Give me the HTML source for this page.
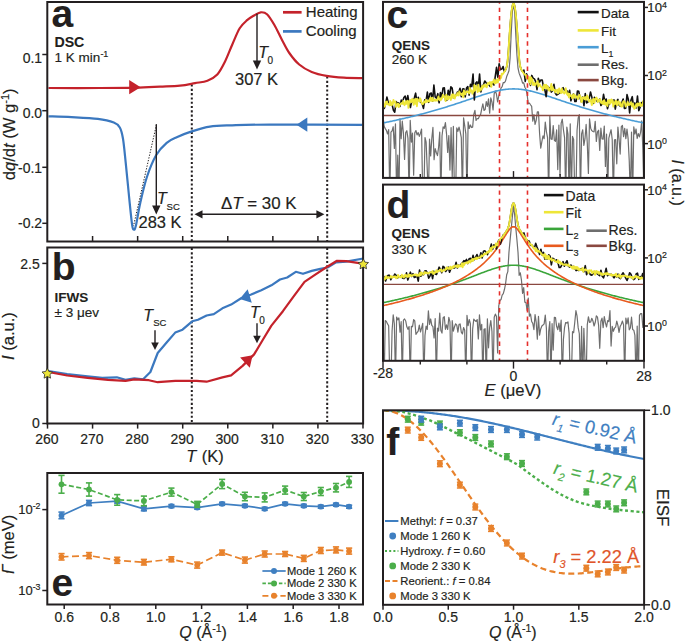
<!DOCTYPE html>
<html><head><meta charset="utf-8"><style>
html,body{margin:0;padding:0;background:#fff;}
svg{display:block;font-family:"Liberation Sans", sans-serif;}
</style></head><body>
<svg width="685" height="643" viewBox="0 0 685 643">
<rect width="685" height="643" fill="#fff"/>
<clipPath id="ca"><rect x="47.3" y="2.0" width="315.8" height="239.5"/></clipPath>
<line x1="191.8" y1="84.5" x2="191.8" y2="241" stroke="#231f20" stroke-width="2.0" stroke-dasharray="2.1 2.2"/>
<line x1="191.8" y1="248" x2="191.8" y2="423" stroke="#231f20" stroke-width="2.0" stroke-dasharray="2.1 2.2"/>
<line x1="327.2" y1="76.5" x2="327.2" y2="241" stroke="#231f20" stroke-width="2.0" stroke-dasharray="2.1 2.2"/>
<line x1="327.2" y1="248" x2="327.2" y2="423" stroke="#231f20" stroke-width="2.0" stroke-dasharray="2.1 2.2"/>
<g clip-path="url(#ca)">
<path d="M48.50,88.00 C57.08,88.00 85.58,88.07 100.00,88.00 C114.42,87.93 125.00,87.83 135.00,87.60 C145.00,87.37 152.50,86.93 160.00,86.60 C167.50,86.27 174.17,86.18 180.00,85.60 C185.83,85.02 190.43,83.92 195.00,83.10 C199.57,82.28 203.68,82.13 207.40,80.70 C211.12,79.27 214.40,77.62 217.30,74.50 C220.20,71.38 222.32,66.97 224.80,62.00 C227.28,57.03 229.72,50.32 232.20,44.70 C234.68,39.08 237.22,32.38 239.70,28.30 C242.18,24.22 244.62,22.38 247.10,20.20 C249.58,18.02 252.32,16.52 254.60,15.20 C256.88,13.88 258.73,12.47 260.80,12.30 C262.87,12.13 264.73,12.08 267.00,14.20 C269.27,16.32 271.92,20.75 274.40,25.00 C276.88,29.25 279.42,35.03 281.90,39.70 C284.38,44.37 286.42,48.87 289.30,53.00 C292.18,57.13 295.47,61.33 299.20,64.50 C302.93,67.67 307.15,70.10 311.70,72.00 C316.25,73.90 321.13,74.95 326.50,75.90 C331.87,76.85 337.90,77.32 343.90,77.70 C349.90,78.08 359.40,78.12 362.50,78.20" fill="none" stroke="#c4222b" stroke-width="2.2" stroke-linejoin="round"/>
<path d="M48.50,116.30 C52.33,116.43 63.27,116.67 71.50,117.10 C79.73,117.53 90.85,117.98 97.90,118.90 C104.95,119.82 110.15,121.17 113.80,122.60 C117.45,124.03 118.27,124.80 119.80,127.50 C121.33,130.20 122.02,132.95 123.00,138.80 C123.98,144.65 124.68,152.90 125.70,162.60 C126.72,172.30 128.05,186.77 129.10,197.00 C130.15,207.23 131.25,218.58 132.00,224.00 C132.75,229.42 132.97,229.17 133.60,229.50 C134.23,229.83 134.70,230.37 135.80,226.00 C136.90,221.63 138.35,211.47 140.20,203.30 C142.05,195.13 144.25,185.02 146.90,177.00 C149.55,168.98 152.80,160.90 156.10,155.20 C159.40,149.50 163.17,145.83 166.70,142.80 C170.23,139.77 173.12,138.90 177.30,137.00 C181.48,135.10 186.37,133.13 191.80,131.40 C197.23,129.67 203.17,127.62 209.90,126.60 C216.63,125.58 222.27,125.63 232.20,125.30 C242.13,124.97 247.78,124.67 269.50,124.60 C291.22,124.53 347.00,124.85 362.50,124.90" fill="none" stroke="#3b78bf" stroke-width="2.2" stroke-linejoin="round"/>
</g>
<line x1="156.5" y1="124.5" x2="133.5" y2="226" stroke="#231f20" stroke-width="1.0" stroke-dasharray="1.3 1.5"/>
<path d="M140.60,87.20 L129.20,94.30 L129.20,80.10 Z" fill="#c4222b"/>
<path d="M296.50,124.70 L307.30,117.60 L307.30,131.80 Z" fill="#3b78bf"/>
<rect x="47.3" y="2.0" width="315.8" height="239.5" fill="none" stroke="#231f20" stroke-width="2.0"/>
<line x1="42.3" y1="54.5" x2="47.3" y2="54.5" stroke="#231f20" stroke-width="1.5" />
<text stroke="#231f20" stroke-width="0.18" id="t1" x="42.1" y="63.4" font-size="14" text-anchor="end" font-weight="normal" font-style="normal" fill="#231f20" >0.1</text>
<line x1="42.3" y1="110.7" x2="47.3" y2="110.7" stroke="#231f20" stroke-width="1.5" />
<text stroke="#231f20" stroke-width="0.18" id="t2" x="42.1" y="118.4" font-size="14" text-anchor="end" font-weight="normal" font-style="normal" fill="#231f20" >0.0</text>
<line x1="42.3" y1="167.3" x2="47.3" y2="167.3" stroke="#231f20" stroke-width="1.5" />
<text stroke="#231f20" stroke-width="0.18" id="t3" x="42.1" y="173.1" font-size="14" text-anchor="end" font-weight="normal" font-style="normal" fill="#231f20" >-0.1</text>
<line x1="42.3" y1="223.3" x2="47.3" y2="223.3" stroke="#231f20" stroke-width="1.5" />
<text stroke="#231f20" stroke-width="0.18" id="t4" x="42.1" y="227.9" font-size="14" text-anchor="end" font-weight="normal" font-style="normal" fill="#231f20" >-0.2</text>
<line x1="92.57" y1="236" x2="92.57" y2="241.5" stroke="#231f20" stroke-width="1.5" />
<line x1="137.64" y1="236" x2="137.64" y2="241.5" stroke="#231f20" stroke-width="1.5" />
<line x1="182.70999999999998" y1="236" x2="182.70999999999998" y2="241.5" stroke="#231f20" stroke-width="1.5" />
<line x1="227.77999999999997" y1="236" x2="227.77999999999997" y2="241.5" stroke="#231f20" stroke-width="1.5" />
<line x1="272.85" y1="236" x2="272.85" y2="241.5" stroke="#231f20" stroke-width="1.5" />
<line x1="317.91999999999996" y1="236" x2="317.91999999999996" y2="241.5" stroke="#231f20" stroke-width="1.5" />
<line x1="156.3" y1="124.2" x2="156.3" y2="206.5" stroke="#231f20" stroke-width="1.4" />
<path d="M152.10000000000002,205.5 L160.5,205.5 L156.3,214.5 Z" fill="#231f20"/>
<line x1="257.0" y1="13.7" x2="257.0" y2="61.5" stroke="#231f20" stroke-width="1.4" />
<path d="M252.8,60.5 L261.2,60.5 L257.0,69.5 Z" fill="#231f20"/>
<text stroke="#231f20" stroke-width="0.18" id="t5" x="157.0" y="203.6" font-size="16" text-anchor="start" font-weight="normal" font-style="italic" fill="#231f20" >T</text>
<text stroke="#231f20" stroke-width="0.18" id="t6" x="166.6" y="209.6" font-size="9.5" text-anchor="start" font-weight="normal" font-style="normal" fill="#231f20" >SC</text>
<text stroke="#231f20" stroke-width="0.18" id="t7" x="138.5" y="228.4" font-size="16.5" text-anchor="start" font-weight="normal" font-style="normal" fill="#231f20" >283 K</text>
<text stroke="#231f20" stroke-width="0.18" id="t8" x="258.3" y="57.9" font-size="16" text-anchor="start" font-weight="normal" font-style="italic" fill="#231f20" >T</text>
<text stroke="#231f20" stroke-width="0.18" id="t9" x="267.6" y="63.8" font-size="10" text-anchor="start" font-weight="normal" font-style="normal" fill="#231f20" >0</text>
<text stroke="#231f20" stroke-width="0.18" id="t10" x="235.0" y="85.0" font-size="16.5" text-anchor="start" font-weight="normal" font-style="normal" fill="#231f20" >307 K</text>
<line x1="200" y1="214.3" x2="318" y2="214.3" stroke="#231f20" stroke-width="1.5" />
<path d="M194.5,214.3 L202.5,210.2 L202.5,218.4 Z" fill="#231f20"/>
<path d="M324.4,214.3 L316.4,210.2 L316.4,218.4 Z" fill="#231f20"/>
<text stroke="#231f20" stroke-width="0.18" id="t11" x="220.9" y="209.3" font-size="16.9" fill="#231f20">Δ<tspan font-style="italic">T</tspan> = 30 K</text>
<line x1="283" y1="12.3" x2="301.6" y2="12.3" stroke="#c4222b" stroke-width="2.7" />
<line x1="283" y1="31.4" x2="301.6" y2="31.4" stroke="#3b78bf" stroke-width="2.7" />
<text stroke="#231f20" stroke-width="0.18" id="t12" x="305.8" y="17.2" font-size="15" text-anchor="start" font-weight="normal" font-style="normal" fill="#231f20" >Heating</text>
<text stroke="#231f20" stroke-width="0.18" id="t13" x="305.8" y="36.2" font-size="15" text-anchor="start" font-weight="normal" font-style="normal" fill="#231f20" >Cooling</text>
<text stroke="#231f20" stroke-width="0.09" id="t14" x="51.5" y="26.8" font-size="39" text-anchor="start" font-weight="bold" font-style="normal" fill="#231f20" >a</text>
<text stroke="#231f20" stroke-width="0.09" id="t15" x="54.4" y="47.1" font-size="14.2" text-anchor="start" font-weight="bold" font-style="normal" fill="#231f20" >DSC</text>
<text stroke="#231f20" stroke-width="0.18" id="t16" x="54.6" y="62.2" font-size="13.5" fill="#231f20">1 K min<tspan font-size="9" dy="-5">-1</tspan></text>
<text stroke="#231f20" stroke-width="0.18" id="t17" transform="translate(15.3,134.3) rotate(-90)" text-anchor="middle" font-size="16.6" fill="#231f20">d<tspan font-style="italic">q</tspan>/d<tspan font-style="italic">t</tspan> (W g<tspan font-size="11" dy="-6">-1</tspan><tspan dy="6">)</tspan></text>
<path d="M48.20,371.10 L67.20,374.00 L87.60,376.40 L102.20,377.80 L116.80,377.30 L125.50,379.90 L134.30,378.40 L143.10,379.30 L150.40,372.00 L157.70,353.00 L166.40,342.80 L175.20,332.60 L182.50,329.70 L192.20,321.30 L198.00,319.80 L206.60,315.50 L213.80,314.10 L222.40,308.30 L231.10,304.60 L241.10,298.30 L251.20,294.50 L261.30,290.20 L271.40,285.30 L280.00,279.50 L287.20,277.50 L295.80,271.80 L303.00,273.80 L311.70,270.90 L320.30,268.90 L327.50,267.50 L336.10,262.30 L346.20,261.70 L363.30,258.50" fill="none" stroke="#3b78bf" stroke-width="2.2" stroke-linejoin="round"/>
<path d="M48.20,372.00 L67.20,375.50 L87.60,377.80 L108.00,379.90 L125.50,380.80 L134.30,379.30 L148.90,380.20 L157.70,382.20 L175.20,380.80 L196.50,380.90 L206.60,381.70 L222.40,377.40 L231.10,375.40 L242.60,365.90 L254.10,354.40 L262.70,340.00 L271.40,325.60 L282.90,311.20 L294.40,295.40 L304.50,281.80 L314.50,275.20 L326.00,267.50 L337.00,260.80 L346.20,261.10 L362.50,263.70" fill="none" stroke="#c4222b" stroke-width="2.2" stroke-linejoin="round"/>
<path d="M239.70,299.00 L247.65,289.16 L251.82,302.63 Z" fill="#3b78bf"/>
<path d="M252.60,355.30 L249.77,367.68 L240.10,357.56 Z" fill="#c4222b"/>
<rect x="47.3" y="247.5" width="315.8" height="176.0" fill="none" stroke="#231f20" stroke-width="2.0"/>
<path d="M47.30,368.20 L48.92,371.48 L52.53,372.00 L49.92,374.55 L50.53,378.15 L47.30,376.45 L44.07,378.15 L44.68,374.55 L42.07,372.00 L45.68,371.48 Z" fill="#ece537" stroke="#2a2a2a" stroke-width="0.8" stroke-linejoin="miter"/>
<path d="M363.30,258.80 L364.92,262.08 L368.53,262.60 L365.92,265.15 L366.53,268.75 L363.30,267.05 L360.07,268.75 L360.68,265.15 L358.07,262.60 L361.68,262.08 Z" fill="#ece537" stroke="#2a2a2a" stroke-width="0.8" stroke-linejoin="miter"/>
<line x1="42.3" y1="263.4" x2="47.3" y2="263.4" stroke="#231f20" stroke-width="1.5" />
<text stroke="#231f20" stroke-width="0.18" id="t18" x="39.8" y="268.7" font-size="14" text-anchor="end" font-weight="normal" font-style="normal" fill="#231f20" >2.5</text>
<line x1="42.3" y1="423.5" x2="47.3" y2="423.5" stroke="#231f20" stroke-width="1.5" />
<text stroke="#231f20" stroke-width="0.18" id="t19" x="39.8" y="428.1" font-size="14" text-anchor="end" font-weight="normal" font-style="normal" fill="#231f20" >0</text>
<line x1="47.5" y1="423.5" x2="47.5" y2="428.6" stroke="#231f20" stroke-width="1.5" />
<text stroke="#231f20" stroke-width="0.18" id="t20" x="46.9" y="443.8" font-size="14" text-anchor="middle" font-weight="normal" font-style="normal" fill="#231f20" >260</text>
<line x1="92.57" y1="423.5" x2="92.57" y2="428.6" stroke="#231f20" stroke-width="1.5" />
<text stroke="#231f20" stroke-width="0.18" id="t21" x="91.97" y="443.8" font-size="14" text-anchor="middle" font-weight="normal" font-style="normal" fill="#231f20" >270</text>
<line x1="137.64" y1="423.5" x2="137.64" y2="428.6" stroke="#231f20" stroke-width="1.5" />
<text stroke="#231f20" stroke-width="0.18" id="t22" x="137.04" y="443.8" font-size="14" text-anchor="middle" font-weight="normal" font-style="normal" fill="#231f20" >280</text>
<line x1="182.70999999999998" y1="423.5" x2="182.70999999999998" y2="428.6" stroke="#231f20" stroke-width="1.5" />
<text stroke="#231f20" stroke-width="0.18" id="t23" x="182.10999999999999" y="443.8" font-size="14" text-anchor="middle" font-weight="normal" font-style="normal" fill="#231f20" >290</text>
<line x1="227.77999999999997" y1="423.5" x2="227.77999999999997" y2="428.6" stroke="#231f20" stroke-width="1.5" />
<text stroke="#231f20" stroke-width="0.18" id="t24" x="227.17999999999998" y="443.8" font-size="14" text-anchor="middle" font-weight="normal" font-style="normal" fill="#231f20" >300</text>
<line x1="272.85" y1="423.5" x2="272.85" y2="428.6" stroke="#231f20" stroke-width="1.5" />
<text stroke="#231f20" stroke-width="0.18" id="t25" x="272.25" y="443.8" font-size="14" text-anchor="middle" font-weight="normal" font-style="normal" fill="#231f20" >310</text>
<line x1="317.91999999999996" y1="423.5" x2="317.91999999999996" y2="428.6" stroke="#231f20" stroke-width="1.5" />
<text stroke="#231f20" stroke-width="0.18" id="t26" x="317.31999999999994" y="443.8" font-size="14" text-anchor="middle" font-weight="normal" font-style="normal" fill="#231f20" >320</text>
<line x1="362.98999999999995" y1="423.5" x2="362.98999999999995" y2="428.6" stroke="#231f20" stroke-width="1.5" />
<text stroke="#231f20" stroke-width="0.18" id="t27" x="362.38999999999993" y="443.8" font-size="14" text-anchor="middle" font-weight="normal" font-style="normal" fill="#231f20" >330</text>
<text stroke="#231f20" stroke-width="0.18" id="t28" x="186.3" y="461.5" font-size="16.4" fill="#231f20"><tspan font-style="italic">T</tspan><tspan dx="1"> (K)</tspan></text>
<line x1="155.0" y1="330.3" x2="155.0" y2="343.6" stroke="#231f20" stroke-width="1.4" />
<path d="M151.2,342.6 L158.8,342.6 L155.0,350.1 Z" fill="#231f20"/>
<line x1="257.0" y1="323.3" x2="257.0" y2="336.7" stroke="#231f20" stroke-width="1.4" />
<path d="M253.2,335.7 L260.8,335.7 L257.0,343.2 Z" fill="#231f20"/>
<text stroke="#231f20" stroke-width="0.18" id="t29" x="143.3" y="320.9" font-size="16" text-anchor="start" font-weight="normal" font-style="italic" fill="#231f20" >T</text>
<text stroke="#231f20" stroke-width="0.18" id="t30" x="153.2" y="326.4" font-size="9.5" text-anchor="start" font-weight="normal" font-style="normal" fill="#231f20" >SC</text>
<text stroke="#231f20" stroke-width="0.18" id="t31" x="250.0" y="318.3" font-size="16" text-anchor="start" font-weight="normal" font-style="italic" fill="#231f20" >T</text>
<text stroke="#231f20" stroke-width="0.18" id="t32" x="259.3" y="323.7" font-size="10" text-anchor="start" font-weight="normal" font-style="normal" fill="#231f20" >0</text>
<text stroke="#231f20" stroke-width="0.09" id="t33" x="51.8" y="279.8" font-size="39" text-anchor="start" font-weight="bold" font-style="normal" fill="#231f20" >b</text>
<text stroke="#231f20" stroke-width="0.09" id="t34" x="54.6" y="301.8" font-size="13.5" text-anchor="start" font-weight="bold" font-style="normal" fill="#231f20" >IFWS</text>
<text stroke="#231f20" stroke-width="0.18" id="t35" x="54.6" y="317.0" font-size="13.5" text-anchor="start" font-weight="normal" font-style="normal" fill="#231f20" >± 3 μev</text>
<text stroke="#231f20" stroke-width="0.18" id="t36" transform="translate(13.7,336.1) rotate(-90)" text-anchor="middle" font-size="16.6" fill="#231f20"><tspan font-style="italic">I</tspan> (a.u.)</text>
<clipPath id="clipc"><rect x="383.0" y="1.9" width="261.0" height="176.0"/></clipPath>
<g clip-path="url(#clipc)">
<path d="M383.00,116.09 L384.13,126.33 L385.27,128.64 L386.40,130.33 L387.54,133.95 L388.67,129.57 L389.81,197.90 L390.94,132.19 L392.08,130.81 L393.21,126.72 L394.35,148.35 L395.48,123.89 L396.62,197.90 L397.75,155.16 L398.89,197.90 L400.02,118.68 L401.16,138.61 L402.29,121.21 L403.43,133.02 L404.56,159.40 L405.70,132.61 L406.83,130.70 L407.97,138.30 L409.10,197.90 L410.23,120.45 L411.37,142.07 L412.50,133.15 L413.64,175.21 L414.77,132.78 L415.91,130.51 L417.04,134.87 L418.18,132.58 L419.31,136.39 L420.45,133.20 L421.58,129.00 L422.72,197.90 L423.85,197.90 L424.99,137.50 L426.12,142.20 L427.26,169.86 L428.39,197.90 L429.53,139.22 L430.66,155.99 L431.80,138.59 L432.93,127.45 L434.07,159.73 L435.20,148.68 L436.33,152.47 L437.47,155.65 L438.60,147.21 L439.74,132.10 L440.87,197.90 L442.01,135.99 L443.14,126.80 L444.28,128.42 L445.41,122.60 L446.55,134.07 L447.68,152.52 L448.82,135.50 L449.95,170.08 L451.09,127.48 L452.22,176.40 L453.36,126.34 L454.49,197.90 L455.63,197.90 L456.76,127.93 L457.90,131.26 L459.03,127.07 L460.17,131.62 L461.30,137.69 L462.43,197.90 L463.57,117.78 L464.70,125.70 L465.84,133.90 L466.97,197.90 L468.11,121.80 L469.24,128.45 L470.38,124.98 L471.51,127.55 L472.65,127.14 L473.78,114.31 L474.92,110.33 L476.05,120.52 L477.19,118.55 L478.32,118.74 L479.46,116.01 L480.59,114.62 L481.73,108.86 L482.86,103.78 L484.00,110.42 L485.13,109.57 L486.27,101.55 L487.40,106.30 L488.53,98.96 L489.67,113.22 L490.80,97.90 L491.94,101.87 L493.07,109.98 L494.21,93.57 L495.34,90.98 L496.48,94.25 L497.61,101.81 L498.75,96.16 L499.88,91.90 L501.02,88.02 L502.15,86.66 L503.29,82.49 L504.42,82.70 L505.56,80.86 L506.69,76.57 L507.83,73.72 L508.96,70.69 L510.10,57.89 L511.23,32.85 L512.37,11.07 L513.50,4.38 L514.63,11.86 L515.77,34.58 L516.90,54.78 L518.04,68.46 L519.17,73.38 L520.31,76.20 L521.44,79.20 L522.58,83.16 L523.71,82.72 L524.85,87.23 L525.98,89.29 L527.12,94.47 L528.25,103.77 L529.39,103.01 L530.52,104.73 L531.66,106.31 L532.79,121.13 L533.93,114.60 L535.06,124.33 L536.20,120.33 L537.33,111.81 L538.47,111.90 L539.60,133.80 L540.73,148.22 L541.87,141.56 L543.00,135.74 L544.14,138.75 L545.27,122.05 L546.41,131.59 L547.54,137.53 L548.68,197.90 L549.81,116.19 L550.95,139.02 L552.08,139.41 L553.22,125.58 L554.35,140.25 L555.49,141.39 L556.62,129.94 L557.76,169.56 L558.89,124.99 L560.03,174.90 L561.16,123.11 L562.30,119.23 L563.43,129.74 L564.57,137.57 L565.70,197.90 L566.83,127.17 L567.97,134.06 L569.10,197.90 L570.24,123.81 L571.37,197.90 L572.51,136.37 L573.64,139.39 L574.78,197.90 L575.91,197.90 L577.05,130.47 L578.18,117.90 L579.32,114.60 L580.45,197.90 L581.59,133.91 L582.72,129.77 L583.86,145.52 L584.99,138.69 L586.13,124.47 L587.26,142.68 L588.40,173.42 L589.53,118.80 L590.67,128.19 L591.80,130.63 L592.93,131.50 L594.07,131.83 L595.20,121.34 L596.34,141.41 L597.47,131.93 L598.61,130.25 L599.74,150.47 L600.88,128.14 L602.01,138.96 L603.15,139.11 L604.28,126.09 L605.42,166.44 L606.55,134.03 L607.69,197.90 L608.82,138.20 L609.96,133.75 L611.09,129.72 L612.23,139.74 L613.36,197.90 L614.50,139.85 L615.63,139.67 L616.77,163.81 L617.90,127.13 L619.03,138.82 L620.17,154.03 L621.30,126.66 L622.44,125.49 L623.57,136.62 L624.71,128.44 L625.84,138.71 L626.98,129.00 L628.11,138.69 L629.25,161.07 L630.38,197.90 L631.52,132.09 L632.65,197.90 L633.79,126.87 L634.92,134.03 L636.06,128.98 L637.19,138.32 L638.33,133.60 L639.46,136.88 L640.60,132.22 L641.73,120.83 L642.87,150.02 L644.00,197.90" fill="none" stroke="#6e6e6e" stroke-width="1.2" stroke-linejoin="round"/>
<line x1="383.0" y1="115.49424069000563" x2="644.0" y2="115.49424069000563" stroke="#8a4840" stroke-width="1.3" />
<path d="M383.00,122.99 L383.87,122.81 L384.74,122.63 L385.61,122.45 L386.48,122.27 L387.35,122.09 L388.22,121.91 L389.09,121.72 L389.96,121.54 L390.83,121.35 L391.70,121.17 L392.57,120.98 L393.44,120.79 L394.31,120.60 L395.18,120.41 L396.05,120.22 L396.92,120.02 L397.79,119.83 L398.66,119.63 L399.53,119.44 L400.40,119.24 L401.27,119.04 L402.14,118.84 L403.01,118.64 L403.88,118.44 L404.75,118.23 L405.62,118.03 L406.49,117.82 L407.36,117.62 L408.23,117.41 L409.10,117.20 L409.97,116.99 L410.84,116.77 L411.71,116.56 L412.58,116.35 L413.45,116.13 L414.32,115.91 L415.19,115.70 L416.06,115.48 L416.93,115.26 L417.80,115.03 L418.67,114.81 L419.54,114.58 L420.41,114.36 L421.28,114.13 L422.15,113.90 L423.02,113.67 L423.89,113.44 L424.76,113.21 L425.63,112.97 L426.50,112.74 L427.37,112.50 L428.24,112.26 L429.11,112.02 L429.98,111.78 L430.85,111.53 L431.72,111.29 L432.59,111.04 L433.46,110.80 L434.33,110.55 L435.20,110.30 L436.07,110.04 L436.94,109.79 L437.81,109.54 L438.68,109.28 L439.55,109.02 L440.42,108.76 L441.29,108.50 L442.16,108.24 L443.03,107.97 L443.90,107.71 L444.77,107.44 L445.64,107.17 L446.51,106.90 L447.38,106.63 L448.25,106.36 L449.12,106.09 L449.99,105.81 L450.86,105.53 L451.73,105.26 L452.60,104.98 L453.47,104.70 L454.34,104.41 L455.21,104.13 L456.08,103.85 L456.95,103.56 L457.82,103.27 L458.69,102.99 L459.56,102.70 L460.43,102.41 L461.30,102.12 L462.17,101.83 L463.04,101.53 L463.91,101.24 L464.78,100.95 L465.65,100.65 L466.52,100.36 L467.39,100.06 L468.26,99.77 L469.13,99.47 L470.00,99.17 L470.87,98.88 L471.74,98.58 L472.61,98.29 L473.48,97.99 L474.35,97.70 L475.22,97.40 L476.09,97.11 L476.96,96.82 L477.83,96.52 L478.70,96.23 L479.57,95.95 L480.44,95.66 L481.31,95.38 L482.18,95.09 L483.05,94.81 L483.92,94.54 L484.79,94.26 L485.66,93.99 L486.53,93.72 L487.40,93.46 L488.27,93.20 L489.14,92.95 L490.01,92.70 L490.88,92.45 L491.75,92.21 L492.62,91.98 L493.49,91.75 L494.36,91.53 L495.23,91.31 L496.10,91.10 L496.97,90.90 L497.84,90.71 L498.71,90.52 L499.58,90.35 L500.45,90.18 L501.32,90.02 L502.19,89.87 L503.06,89.73 L503.93,89.60 L504.80,89.48 L505.67,89.38 L506.54,89.28 L507.41,89.19 L508.28,89.11 L509.15,89.05 L510.02,89.00 L510.89,88.96 L511.76,88.93 L512.63,88.91 L513.50,88.90 L514.37,88.91 L515.24,88.93 L516.11,88.96 L516.98,89.00 L517.85,89.05 L518.72,89.11 L519.59,89.19 L520.46,89.28 L521.33,89.38 L522.20,89.48 L523.07,89.60 L523.94,89.73 L524.81,89.87 L525.68,90.02 L526.55,90.18 L527.42,90.35 L528.29,90.52 L529.16,90.71 L530.03,90.90 L530.90,91.10 L531.77,91.31 L532.64,91.53 L533.51,91.75 L534.38,91.98 L535.25,92.21 L536.12,92.45 L536.99,92.70 L537.86,92.95 L538.73,93.20 L539.60,93.46 L540.47,93.72 L541.34,93.99 L542.21,94.26 L543.08,94.54 L543.95,94.81 L544.82,95.09 L545.69,95.38 L546.56,95.66 L547.43,95.95 L548.30,96.23 L549.17,96.52 L550.04,96.82 L550.91,97.11 L551.78,97.40 L552.65,97.70 L553.52,97.99 L554.39,98.29 L555.26,98.58 L556.13,98.88 L557.00,99.17 L557.87,99.47 L558.74,99.77 L559.61,100.06 L560.48,100.36 L561.35,100.65 L562.22,100.95 L563.09,101.24 L563.96,101.53 L564.83,101.83 L565.70,102.12 L566.57,102.41 L567.44,102.70 L568.31,102.99 L569.18,103.27 L570.05,103.56 L570.92,103.85 L571.79,104.13 L572.66,104.41 L573.53,104.70 L574.40,104.98 L575.27,105.26 L576.14,105.53 L577.01,105.81 L577.88,106.09 L578.75,106.36 L579.62,106.63 L580.49,106.90 L581.36,107.17 L582.23,107.44 L583.10,107.71 L583.97,107.97 L584.84,108.24 L585.71,108.50 L586.58,108.76 L587.45,109.02 L588.32,109.28 L589.19,109.54 L590.06,109.79 L590.93,110.04 L591.80,110.30 L592.67,110.55 L593.54,110.80 L594.41,111.04 L595.28,111.29 L596.15,111.53 L597.02,111.78 L597.89,112.02 L598.76,112.26 L599.63,112.50 L600.50,112.74 L601.37,112.97 L602.24,113.21 L603.11,113.44 L603.98,113.67 L604.85,113.90 L605.72,114.13 L606.59,114.36 L607.46,114.58 L608.33,114.81 L609.20,115.03 L610.07,115.26 L610.94,115.48 L611.81,115.70 L612.68,115.91 L613.55,116.13 L614.42,116.35 L615.29,116.56 L616.16,116.77 L617.03,116.99 L617.90,117.20 L618.77,117.41 L619.64,117.62 L620.51,117.82 L621.38,118.03 L622.25,118.23 L623.12,118.44 L623.99,118.64 L624.86,118.84 L625.73,119.04 L626.60,119.24 L627.47,119.44 L628.34,119.63 L629.21,119.83 L630.08,120.02 L630.95,120.22 L631.82,120.41 L632.69,120.60 L633.56,120.79 L634.43,120.98 L635.30,121.17 L636.17,121.35 L637.04,121.54 L637.91,121.72 L638.78,121.91 L639.65,122.09 L640.52,122.27 L641.39,122.45 L642.26,122.63 L643.13,122.81 L644.00,122.99" fill="none" stroke="#4a9dd6" stroke-width="1.6"/>
<path d="M383.00,102.92 L384.31,108.37 L385.61,104.16 L386.91,97.09 L388.22,102.14 L389.52,104.28 L390.83,104.71 L392.13,104.78 L393.44,110.35 L394.75,112.21 L396.05,101.44 L397.36,103.25 L398.66,102.72 L399.97,106.39 L401.27,100.13 L402.57,101.84 L403.88,97.46 L405.19,96.05 L406.49,102.19 L407.80,95.57 L409.10,103.37 L410.40,107.50 L411.71,101.12 L413.01,101.96 L414.32,97.94 L415.62,93.18 L416.93,102.00 L418.24,97.38 L419.54,101.24 L420.85,102.13 L422.15,103.82 L423.45,108.37 L424.76,99.82 L426.06,100.93 L427.37,92.04 L428.68,102.33 L429.98,93.40 L431.28,93.04 L432.59,101.11 L433.89,85.01 L435.20,96.98 L436.50,98.24 L437.81,93.67 L439.12,102.80 L440.42,92.55 L441.73,97.56 L443.03,87.95 L444.34,87.87 L445.64,100.62 L446.94,100.05 L448.25,90.19 L449.56,95.37 L450.86,86.83 L452.17,88.13 L453.47,97.61 L454.77,97.01 L456.08,94.79 L457.38,92.11 L458.69,92.54 L460.00,88.22 L461.30,96.70 L462.61,89.13 L463.91,88.81 L465.21,96.82 L466.52,88.11 L467.82,86.57 L469.13,95.08 L470.44,84.28 L471.74,86.50 L473.05,73.98 L474.35,99.99 L475.65,83.30 L476.96,81.83 L478.26,87.64 L479.57,74.02 L480.88,91.87 L482.18,86.26 L483.49,84.69 L484.79,81.07 L486.10,82.80 L487.40,84.26 L488.70,84.34 L490.01,86.36 L491.31,84.46 L492.62,83.04 L493.93,85.02 L495.23,76.54 L496.53,67.32 L497.84,77.30 L499.14,63.74 L500.45,69.65 L501.75,69.03 L503.06,66.53 L504.18,71.12 L504.49,71.64 L504.80,71.16 L505.11,70.64 L505.42,70.09 L505.73,69.47 L506.04,68.76 L506.35,67.88 L506.66,66.76 L506.98,65.29 L507.29,63.34 L507.60,60.81 L507.91,57.65 L508.22,53.90 L508.53,49.69 L508.84,45.19 L509.15,40.55 L509.46,35.94 L509.77,31.45 L510.08,27.19 L510.39,23.20 L510.70,19.53 L511.01,16.21 L511.32,13.25 L511.64,10.67 L511.95,8.47 L512.26,6.66 L512.57,5.24 L512.88,4.23 L513.19,3.60 L513.50,3.38 L513.81,3.60 L514.12,4.23 L514.43,5.24 L514.74,6.66 L515.05,8.47 L515.36,10.67 L515.67,13.25 L515.99,16.21 L516.30,19.53 L516.61,23.20 L516.92,27.19 L517.23,31.45 L517.54,35.94 L517.85,40.55 L518.16,45.19 L518.47,49.69 L518.78,53.90 L519.09,57.65 L519.40,60.81 L519.71,63.34 L520.02,65.29 L520.34,66.76 L520.65,67.88 L520.96,68.76 L521.27,69.47 L521.58,70.09 L521.89,70.64 L522.20,71.16 L522.51,71.64 L522.82,71.40 L523.94,70.02 L525.25,81.42 L526.55,73.89 L527.86,77.40 L529.16,80.51 L530.47,85.36 L531.77,75.42 L533.08,78.10 L534.38,78.84 L535.68,81.56 L536.99,89.73 L538.29,78.31 L539.60,81.96 L540.90,79.93 L542.21,79.94 L543.51,87.16 L544.82,89.54 L546.12,96.65 L547.43,86.19 L548.74,88.82 L550.04,87.52 L551.35,92.09 L552.65,90.60 L553.96,84.26 L555.26,92.96 L556.57,94.99 L557.87,94.32 L559.17,93.11 L560.48,92.65 L561.78,89.73 L563.09,87.62 L564.39,90.09 L565.70,90.23 L567.00,90.71 L568.31,94.46 L569.62,90.36 L570.92,100.78 L572.23,95.98 L573.53,93.91 L574.84,101.54 L576.14,101.48 L577.44,90.93 L578.75,91.31 L580.06,97.93 L581.36,101.65 L582.66,97.01 L583.97,105.69 L585.27,93.59 L586.58,102.89 L587.88,102.33 L589.19,98.41 L590.50,91.96 L591.80,96.95 L593.11,103.44 L594.41,97.36 L595.72,98.43 L597.02,101.45 L598.33,101.45 L599.63,99.13 L600.93,105.50 L602.24,103.59 L603.54,94.29 L604.85,101.76 L606.15,99.00 L607.46,108.72 L608.76,104.34 L610.07,103.20 L611.38,101.00 L612.68,100.56 L613.99,99.91 L615.29,109.08 L616.60,101.31 L617.90,99.32 L619.21,105.41 L620.51,106.20 L621.82,102.46 L623.12,99.06 L624.42,108.46 L625.73,108.11 L627.03,94.65 L628.34,99.54 L629.64,112.86 L630.95,100.34 L632.25,96.69 L633.56,107.15 L634.87,102.94 L636.17,107.96 L637.48,96.14 L638.78,110.60 L640.09,107.26 L641.39,102.68 L642.69,102.11 L644.00,108.11" fill="none" stroke="#111" stroke-width="1.6" stroke-linejoin="round"/>
<path d="M383.00,104.17 L383.65,106.96 L384.31,104.39 L384.96,106.21 L385.61,102.02 L386.26,103.87 L386.91,101.53 L387.57,104.21 L388.22,103.97 L388.87,104.59 L389.52,105.25 L390.18,100.85 L390.83,104.84 L391.48,105.29 L392.13,102.33 L392.79,104.52 L393.44,99.97 L394.09,102.52 L394.75,102.51 L395.40,101.62 L396.05,106.82 L396.70,105.43 L397.36,104.59 L398.01,103.52 L398.66,107.13 L399.31,105.83 L399.97,104.84 L400.62,103.60 L401.27,103.30 L401.92,103.15 L402.57,103.85 L403.23,100.97 L403.88,103.84 L404.53,105.14 L405.19,103.90 L405.84,101.19 L406.49,103.72 L407.14,101.48 L407.80,100.65 L408.45,107.81 L409.10,102.18 L409.75,101.14 L410.40,100.02 L411.06,102.32 L411.71,101.83 L412.36,98.63 L413.01,99.67 L413.67,104.76 L414.32,100.73 L414.97,99.22 L415.62,103.84 L416.28,98.90 L416.93,106.23 L417.58,99.06 L418.24,100.67 L418.89,100.26 L419.54,101.16 L420.19,98.48 L420.85,100.04 L421.50,102.78 L422.15,103.71 L422.80,104.23 L423.45,103.47 L424.11,101.33 L424.76,102.02 L425.41,102.43 L426.06,99.68 L426.72,101.82 L427.37,101.66 L428.02,100.74 L428.68,100.42 L429.33,101.60 L429.98,98.51 L430.63,97.70 L431.28,100.68 L431.94,100.91 L432.59,97.60 L433.24,100.73 L433.89,100.40 L434.55,99.54 L435.20,100.71 L435.85,100.41 L436.50,99.79 L437.16,100.81 L437.81,98.71 L438.46,96.51 L439.12,99.23 L439.77,100.16 L440.42,98.54 L441.07,99.86 L441.73,98.60 L442.38,96.67 L443.03,94.75 L443.68,97.03 L444.34,96.46 L444.99,98.07 L445.64,101.10 L446.29,94.71 L446.94,96.08 L447.60,99.42 L448.25,99.38 L448.90,96.42 L449.56,97.00 L450.21,97.36 L450.86,99.99 L451.51,95.27 L452.17,94.44 L452.82,97.74 L453.47,94.37 L454.12,95.65 L454.77,98.57 L455.43,95.30 L456.08,95.34 L456.73,95.45 L457.38,93.09 L458.04,95.14 L458.69,95.56 L459.34,91.44 L460.00,93.37 L460.65,93.39 L461.30,94.90 L461.95,95.22 L462.61,93.33 L463.26,97.41 L463.91,90.36 L464.56,92.71 L465.21,94.38 L465.87,92.54 L466.52,91.30 L467.17,91.97 L467.82,92.03 L468.48,91.71 L469.13,93.29 L469.78,87.91 L470.44,91.55 L471.09,90.23 L471.74,90.37 L472.39,93.70 L473.05,92.21 L473.70,91.42 L474.35,85.00 L475.00,90.64 L475.65,86.06 L476.31,87.17 L476.96,87.82 L477.61,92.08 L478.26,84.65 L478.92,90.50 L479.57,91.18 L480.22,89.82 L480.88,88.20 L481.53,89.72 L482.18,85.89 L482.83,86.61 L483.49,87.39 L484.14,84.78 L484.79,85.72 L485.44,86.49 L486.10,84.71 L486.75,87.31 L487.40,84.51 L488.05,82.79 L488.70,83.98 L489.36,83.17 L490.01,81.98 L490.66,84.79 L491.31,86.77 L491.97,81.98 L492.62,82.23 L493.27,81.79 L493.93,79.42 L494.58,83.48 L495.23,81.08 L495.88,83.02 L496.53,79.72 L497.19,79.60 L497.84,82.60 L498.49,78.30 L499.14,78.66 L499.80,79.98 L500.45,76.19 L501.10,77.87 L501.75,73.63 L502.41,74.49 L503.06,73.66 L503.71,72.78 L504.37,71.83 L505.02,70.80 L505.67,69.60 L506.32,67.98 L506.98,65.29 L507.63,60.52 L508.28,53.09 L508.93,43.80 L509.58,34.12 L510.24,25.16 L510.89,17.50 L511.54,11.40 L512.20,6.99 L512.85,4.31 L513.50,3.38 L514.15,4.31 L514.80,6.99 L515.46,11.40 L516.11,17.50 L516.76,25.16 L517.41,34.12 L518.07,43.80 L518.72,53.09 L519.37,60.52 L520.02,65.29 L520.68,67.98 L521.33,69.60 L521.98,70.80 L522.63,71.83 L523.29,72.78 L523.94,73.66 L524.59,74.49 L525.25,74.85 L525.90,74.95 L526.55,78.38 L527.20,76.55 L527.86,76.58 L528.51,79.49 L529.16,82.10 L529.81,77.22 L530.47,84.23 L531.12,77.49 L531.77,79.64 L532.42,79.45 L533.08,84.94 L533.73,82.97 L534.38,83.01 L535.03,85.25 L535.68,84.77 L536.34,83.09 L536.99,82.52 L537.64,80.93 L538.29,86.53 L538.95,83.91 L539.60,84.44 L540.25,85.37 L540.90,86.63 L541.56,87.20 L542.21,87.45 L542.86,90.32 L543.51,88.52 L544.17,84.65 L544.82,88.11 L545.47,85.25 L546.12,84.82 L546.78,88.65 L547.43,86.25 L548.08,87.27 L548.74,90.31 L549.39,90.76 L550.04,89.18 L550.69,87.46 L551.35,84.05 L552.00,90.39 L552.65,87.04 L553.30,89.81 L553.96,90.09 L554.61,89.66 L555.26,92.36 L555.91,90.43 L556.57,90.42 L557.22,89.69 L557.87,93.27 L558.52,92.71 L559.17,88.39 L559.83,91.32 L560.48,91.66 L561.13,93.06 L561.78,88.51 L562.44,91.22 L563.09,92.63 L563.74,92.27 L564.39,93.56 L565.05,92.41 L565.70,88.20 L566.35,90.96 L567.00,93.97 L567.66,95.15 L568.31,93.50 L568.96,97.46 L569.62,94.03 L570.27,95.42 L570.92,96.11 L571.57,95.57 L572.23,98.27 L572.88,95.22 L573.53,94.28 L574.18,97.83 L574.84,95.46 L575.49,95.43 L576.14,96.82 L576.79,97.80 L577.44,96.70 L578.10,99.09 L578.75,95.75 L579.40,94.94 L580.06,96.50 L580.71,97.20 L581.36,102.10 L582.01,101.55 L582.66,97.82 L583.32,97.31 L583.97,97.66 L584.62,99.14 L585.27,97.05 L585.93,99.83 L586.58,97.88 L587.23,95.52 L587.88,97.34 L588.54,100.13 L589.19,101.57 L589.84,99.83 L590.50,99.73 L591.15,102.11 L591.80,105.05 L592.45,102.55 L593.11,98.85 L593.76,98.99 L594.41,102.95 L595.06,100.11 L595.72,98.41 L596.37,97.45 L597.02,98.60 L597.67,102.00 L598.33,100.91 L598.98,99.78 L599.63,101.19 L600.28,99.10 L600.93,102.86 L601.59,102.37 L602.24,103.50 L602.89,101.22 L603.54,104.11 L604.20,100.21 L604.85,104.20 L605.50,104.69 L606.15,102.59 L606.81,105.08 L607.46,106.05 L608.11,100.31 L608.76,100.89 L609.42,99.92 L610.07,103.86 L610.72,101.20 L611.38,99.41 L612.03,102.64 L612.68,100.38 L613.33,106.58 L613.99,102.71 L614.64,104.17 L615.29,101.37 L615.94,100.69 L616.60,104.17 L617.25,105.22 L617.90,101.90 L618.55,101.24 L619.21,103.07 L619.86,104.92 L620.51,102.54 L621.16,106.63 L621.82,104.75 L622.47,106.36 L623.12,101.89 L623.77,101.13 L624.42,102.00 L625.08,103.08 L625.73,106.57 L626.38,105.04 L627.03,104.60 L627.69,101.99 L628.34,105.05 L628.99,103.81 L629.64,104.79 L630.30,103.62 L630.95,102.20 L631.60,104.67 L632.25,106.32 L632.91,103.50 L633.56,105.61 L634.21,108.77 L634.87,106.66 L635.52,107.77 L636.17,104.30 L636.82,106.37 L637.48,103.46 L638.13,105.55 L638.78,103.79 L639.43,105.11 L640.09,102.63 L640.74,106.01 L641.39,104.79 L642.04,105.62 L642.69,104.40 L643.35,100.67 L644.00,104.34" fill="none" stroke="#eee638" stroke-width="1.9" stroke-linejoin="round"/>
</g>
<line x1="499.51785714285717" y1="1.9" x2="499.51785714285717" y2="177.9" stroke="#e5302c" stroke-width="1.6" stroke-dasharray="4.4 4" stroke-dashoffset="2.6"/>
<line x1="527.4821428571429" y1="1.9" x2="527.4821428571429" y2="177.9" stroke="#e5302c" stroke-width="1.6" stroke-dasharray="4.4 4" stroke-dashoffset="2.6"/>
<rect x="383.0" y="1.9" width="261.0" height="176.0" fill="none" stroke="#231f20" stroke-width="2.0"/>
<line x1="644.0" y1="7.400000000000006" x2="648.0" y2="7.400000000000006" stroke="#231f20" stroke-width="1.5" />
<text stroke="#231f20" stroke-width="0.18" id="t37" x="647.3" y="12.300000000000006" font-size="13.2" fill="#231f20">10<tspan font-size="8.8" dy="-4.6">4</tspan></text>
<line x1="644.0" y1="75.5" x2="648.0" y2="75.5" stroke="#231f20" stroke-width="1.5" />
<text stroke="#231f20" stroke-width="0.18" id="t38" x="647.3" y="80.4" font-size="13.2" fill="#231f20">10<tspan font-size="8.8" dy="-4.6">2</tspan></text>
<line x1="644.0" y1="143.6" x2="648.0" y2="143.6" stroke="#231f20" stroke-width="1.5" />
<text stroke="#231f20" stroke-width="0.18" id="t39" x="647.3" y="148.5" font-size="13.2" fill="#231f20">10<tspan font-size="8.8" dy="-4.6">0</tspan></text>
<line x1="420.2857142857143" y1="174.1" x2="420.2857142857143" y2="177.9" stroke="#231f20" stroke-width="1.4" />
<line x1="466.89285714285717" y1="174.1" x2="466.89285714285717" y2="177.9" stroke="#231f20" stroke-width="1.4" />
<line x1="513.5" y1="171.1" x2="513.5" y2="177.9" stroke="#231f20" stroke-width="1.4" />
<line x1="560.1071428571429" y1="174.1" x2="560.1071428571429" y2="177.9" stroke="#231f20" stroke-width="1.4" />
<line x1="606.7142857142857" y1="174.1" x2="606.7142857142857" y2="177.9" stroke="#231f20" stroke-width="1.4" />
<text stroke="#231f20" stroke-width="0.09" id="t40" x="386.6" y="27.6" font-size="39" text-anchor="start" font-weight="bold" font-style="normal" fill="#231f20" >c</text>
<text stroke="#231f20" stroke-width="0.09" id="t41" x="391.8" y="49.8" font-size="13.5" text-anchor="start" font-weight="bold" font-style="normal" fill="#231f20" >QENS</text>
<text stroke="#231f20" stroke-width="0.18" id="t42" x="391.8" y="64.3" font-size="13.5" text-anchor="start" font-weight="normal" font-style="normal" fill="#231f20" >260 K</text>
<line x1="577.7" y1="12.1" x2="598.7" y2="12.1" stroke="#111" stroke-width="2.6" />
<text stroke="#231f20" stroke-width="0.18" id="t43" x="601.0" y="17.7" font-size="13.4" text-anchor="start" font-weight="normal" font-style="normal" fill="#231f20" >Data</text>
<line x1="577.7" y1="30.4" x2="598.7" y2="30.4" stroke="#eee638" stroke-width="2.6" />
<text stroke="#231f20" stroke-width="0.18" id="t44" x="601.0" y="35.6" font-size="13.4" text-anchor="start" font-weight="normal" font-style="normal" fill="#231f20" >Fit</text>
<line x1="577.7" y1="47.2" x2="598.7" y2="47.2" stroke="#4a9dd6" stroke-width="2.6" />
<text stroke="#231f20" stroke-width="0.18" id="t45" x="601.0" y="53.1" font-size="13.4" fill="#231f20">L<tspan font-size="8.8" dy="4.2">1</tspan></text>
<line x1="577.7" y1="64.7" x2="598.7" y2="64.7" stroke="#6e6e6e" stroke-width="2.6" />
<text stroke="#231f20" stroke-width="0.18" id="t46" x="601.0" y="69.2" font-size="13.4" text-anchor="start" font-weight="normal" font-style="normal" fill="#231f20" >Res.</text>
<line x1="577.7" y1="80.1" x2="598.7" y2="80.1" stroke="#8a4840" stroke-width="2.6" />
<text stroke="#231f20" stroke-width="0.18" id="t47" x="601.0" y="84.6" font-size="13.4" text-anchor="start" font-weight="normal" font-style="normal" fill="#231f20" >Bkg.</text>
<clipPath id="clipd"><rect x="383.0" y="184.6" width="261.0" height="176.20000000000002"/></clipPath>
<g clip-path="url(#clipd)">
<path d="M383.00,336.52 L384.13,380.80 L385.27,320.48 L386.40,321.39 L387.54,323.90 L388.67,325.70 L389.81,380.80 L390.94,380.80 L392.08,331.00 L393.21,314.76 L394.35,323.73 L395.48,380.80 L396.62,317.05 L397.75,319.83 L398.89,317.90 L400.02,332.19 L401.16,321.72 L402.29,380.80 L403.43,320.09 L404.56,319.00 L405.70,320.98 L406.83,326.80 L407.97,329.28 L409.10,326.56 L410.23,380.80 L411.37,326.30 L412.50,326.81 L413.64,319.64 L414.77,320.99 L415.91,334.29 L417.04,332.71 L418.18,331.05 L419.31,325.07 L420.45,332.01 L421.58,327.92 L422.72,323.28 L423.85,380.80 L424.99,335.31 L426.12,326.10 L427.26,329.45 L428.39,310.73 L429.53,324.47 L430.66,318.97 L431.80,325.33 L432.93,326.73 L434.07,337.95 L435.20,318.54 L436.33,380.80 L437.47,328.13 L438.60,331.08 L439.74,313.13 L440.87,330.59 L442.01,333.08 L443.14,317.61 L444.28,316.63 L445.41,329.31 L446.55,324.86 L447.68,329.51 L448.82,317.40 L449.95,321.84 L451.09,380.80 L452.22,320.69 L453.36,331.17 L454.49,326.82 L455.63,323.77 L456.76,325.22 L457.90,332.16 L459.03,324.39 L460.17,323.98 L461.30,332.08 L462.43,333.88 L463.57,327.54 L464.70,330.30 L465.84,380.80 L466.97,315.40 L468.11,325.64 L469.24,319.52 L470.38,323.68 L471.51,380.80 L472.65,329.11 L473.78,319.17 L474.92,320.56 L476.05,321.44 L477.19,319.60 L478.32,338.90 L479.46,314.83 L480.59,329.85 L481.73,324.33 L482.86,380.80 L484.00,329.34 L485.13,328.75 L486.27,380.80 L487.40,318.82 L488.53,347.78 L489.67,327.38 L490.80,320.61 L491.94,331.24 L493.07,380.80 L494.21,317.27 L495.34,314.09 L496.48,316.52 L497.61,352.95 L498.75,305.98 L499.88,300.64 L501.02,299.53 L502.15,295.03 L503.29,293.58 L504.42,289.53 L505.56,283.87 L506.69,274.77 L507.83,271.59 L508.96,252.24 L510.10,240.10 L511.23,228.41 L512.37,216.75 L513.50,205.90 L514.63,214.75 L515.77,227.61 L516.90,239.46 L518.04,252.68 L519.17,275.38 L520.31,272.79 L521.44,280.03 L522.58,293.42 L523.71,287.71 L524.85,302.18 L525.98,302.64 L527.12,310.41 L528.25,298.16 L529.39,316.13 L530.52,314.09 L531.66,321.50 L532.79,323.37 L533.93,329.60 L535.06,314.62 L536.20,322.32 L537.33,339.23 L538.47,316.23 L539.60,335.11 L540.73,328.91 L541.87,325.98 L543.00,325.06 L544.14,323.94 L545.27,315.09 L546.41,328.49 L547.54,380.80 L548.68,331.61 L549.81,321.56 L550.95,380.80 L552.08,323.69 L553.22,350.04 L554.35,317.24 L555.49,317.63 L556.62,326.30 L557.76,329.74 L558.89,323.00 L560.03,331.33 L561.16,320.18 L562.30,380.80 L563.43,339.28 L564.57,327.31 L565.70,322.49 L566.83,323.04 L567.97,321.96 L569.10,333.13 L570.24,380.80 L571.37,380.80 L572.51,331.71 L573.64,332.68 L574.78,322.25 L575.91,310.70 L577.05,316.21 L578.18,327.67 L579.32,333.75 L580.45,380.80 L581.59,326.38 L582.72,380.80 L583.86,328.26 L584.99,360.07 L586.13,380.80 L587.26,324.95 L588.40,316.73 L589.53,322.35 L590.67,322.02 L591.80,318.28 L592.93,320.89 L594.07,326.00 L595.20,322.53 L596.34,315.85 L597.47,317.17 L598.61,325.44 L599.74,348.30 L600.88,321.30 L602.01,318.08 L603.15,327.62 L604.28,316.67 L605.42,322.66 L606.55,327.01 L607.69,320.50 L608.82,321.56 L609.96,310.70 L611.09,346.05 L612.23,326.47 L613.36,331.29 L614.50,328.18 L615.63,327.14 L616.77,321.08 L617.90,325.39 L619.03,332.31 L620.17,326.42 L621.30,324.20 L622.44,321.06 L623.57,324.87 L624.71,380.80 L625.84,317.98 L626.98,324.01 L628.11,317.81 L629.25,329.80 L630.38,327.98 L631.52,317.19 L632.65,329.55 L633.79,330.16 L634.92,335.48 L636.06,380.80 L637.19,326.12 L638.33,380.80 L639.46,315.42 L640.60,313.66 L641.73,313.49 L642.87,327.48 L644.00,322.98" fill="none" stroke="#6e6e6e" stroke-width="1.2" stroke-linejoin="round"/>
<line x1="383.0" y1="284.3665041574248" x2="644.0" y2="284.3665041574248" stroke="#8a4840" stroke-width="1.3" />
<path d="M383.00,302.71 L383.87,302.53 L384.74,302.35 L385.61,302.17 L386.48,301.98 L387.35,301.79 L388.22,301.61 L389.09,301.42 L389.96,301.23 L390.83,301.04 L391.70,300.85 L392.57,300.65 L393.44,300.46 L394.31,300.26 L395.18,300.07 L396.05,299.87 L396.92,299.67 L397.79,299.47 L398.66,299.27 L399.53,299.07 L400.40,298.87 L401.27,298.66 L402.14,298.45 L403.01,298.25 L403.88,298.04 L404.75,297.83 L405.62,297.62 L406.49,297.41 L407.36,297.19 L408.23,296.98 L409.10,296.76 L409.97,296.54 L410.84,296.32 L411.71,296.10 L412.58,295.88 L413.45,295.66 L414.32,295.43 L415.19,295.20 L416.06,294.98 L416.93,294.75 L417.80,294.52 L418.67,294.28 L419.54,294.05 L420.41,293.81 L421.28,293.58 L422.15,293.34 L423.02,293.10 L423.89,292.85 L424.76,292.61 L425.63,292.37 L426.50,292.12 L427.37,291.87 L428.24,291.62 L429.11,291.37 L429.98,291.11 L430.85,290.86 L431.72,290.60 L432.59,290.34 L433.46,290.08 L434.33,289.82 L435.20,289.55 L436.07,289.29 L436.94,289.02 L437.81,288.75 L438.68,288.48 L439.55,288.20 L440.42,287.93 L441.29,287.65 L442.16,287.37 L443.03,287.09 L443.90,286.81 L444.77,286.52 L445.64,286.24 L446.51,285.95 L447.38,285.66 L448.25,285.37 L449.12,285.07 L449.99,284.77 L450.86,284.48 L451.73,284.18 L452.60,283.87 L453.47,283.57 L454.34,283.27 L455.21,282.96 L456.08,282.65 L456.95,282.34 L457.82,282.02 L458.69,281.71 L459.56,281.39 L460.43,281.07 L461.30,280.75 L462.17,280.43 L463.04,280.11 L463.91,279.79 L464.78,279.46 L465.65,279.13 L466.52,278.80 L467.39,278.47 L468.26,278.14 L469.13,277.81 L470.00,277.48 L470.87,277.14 L471.74,276.81 L472.61,276.47 L473.48,276.14 L474.35,275.80 L475.22,275.47 L476.09,275.13 L476.96,274.79 L477.83,274.46 L478.70,274.12 L479.57,273.79 L480.44,273.46 L481.31,273.12 L482.18,272.79 L483.05,272.46 L483.92,272.14 L484.79,271.81 L485.66,271.49 L486.53,271.17 L487.40,270.86 L488.27,270.55 L489.14,270.24 L490.01,269.94 L490.88,269.64 L491.75,269.35 L492.62,269.06 L493.49,268.78 L494.36,268.51 L495.23,268.25 L496.10,267.99 L496.97,267.74 L497.84,267.50 L498.71,267.27 L499.58,267.05 L500.45,266.84 L501.32,266.64 L502.19,266.45 L503.06,266.27 L503.93,266.11 L504.80,265.95 L505.67,265.82 L506.54,265.69 L507.41,265.58 L508.28,265.48 L509.15,265.40 L510.02,265.33 L510.89,265.28 L511.76,265.24 L512.63,265.22 L513.50,265.21 L514.37,265.22 L515.24,265.24 L516.11,265.28 L516.98,265.33 L517.85,265.40 L518.72,265.48 L519.59,265.58 L520.46,265.69 L521.33,265.82 L522.20,265.95 L523.07,266.11 L523.94,266.27 L524.81,266.45 L525.68,266.64 L526.55,266.84 L527.42,267.05 L528.29,267.27 L529.16,267.50 L530.03,267.74 L530.90,267.99 L531.77,268.25 L532.64,268.51 L533.51,268.78 L534.38,269.06 L535.25,269.35 L536.12,269.64 L536.99,269.94 L537.86,270.24 L538.73,270.55 L539.60,270.86 L540.47,271.17 L541.34,271.49 L542.21,271.81 L543.08,272.14 L543.95,272.46 L544.82,272.79 L545.69,273.12 L546.56,273.46 L547.43,273.79 L548.30,274.12 L549.17,274.46 L550.04,274.79 L550.91,275.13 L551.78,275.47 L552.65,275.80 L553.52,276.14 L554.39,276.47 L555.26,276.81 L556.13,277.14 L557.00,277.48 L557.87,277.81 L558.74,278.14 L559.61,278.47 L560.48,278.80 L561.35,279.13 L562.22,279.46 L563.09,279.79 L563.96,280.11 L564.83,280.43 L565.70,280.75 L566.57,281.07 L567.44,281.39 L568.31,281.71 L569.18,282.02 L570.05,282.34 L570.92,282.65 L571.79,282.96 L572.66,283.27 L573.53,283.57 L574.40,283.87 L575.27,284.18 L576.14,284.48 L577.01,284.77 L577.88,285.07 L578.75,285.37 L579.62,285.66 L580.49,285.95 L581.36,286.24 L582.23,286.52 L583.10,286.81 L583.97,287.09 L584.84,287.37 L585.71,287.65 L586.58,287.93 L587.45,288.20 L588.32,288.48 L589.19,288.75 L590.06,289.02 L590.93,289.29 L591.80,289.55 L592.67,289.82 L593.54,290.08 L594.41,290.34 L595.28,290.60 L596.15,290.86 L597.02,291.11 L597.89,291.37 L598.76,291.62 L599.63,291.87 L600.50,292.12 L601.37,292.37 L602.24,292.61 L603.11,292.85 L603.98,293.10 L604.85,293.34 L605.72,293.58 L606.59,293.81 L607.46,294.05 L608.33,294.28 L609.20,294.52 L610.07,294.75 L610.94,294.98 L611.81,295.20 L612.68,295.43 L613.55,295.66 L614.42,295.88 L615.29,296.10 L616.16,296.32 L617.03,296.54 L617.90,296.76 L618.77,296.98 L619.64,297.19 L620.51,297.41 L621.38,297.62 L622.25,297.83 L623.12,298.04 L623.99,298.25 L624.86,298.45 L625.73,298.66 L626.60,298.87 L627.47,299.07 L628.34,299.27 L629.21,299.47 L630.08,299.67 L630.95,299.87 L631.82,300.07 L632.69,300.26 L633.56,300.46 L634.43,300.65 L635.30,300.85 L636.17,301.04 L637.04,301.23 L637.91,301.42 L638.78,301.61 L639.65,301.79 L640.52,301.98 L641.39,302.17 L642.26,302.35 L643.13,302.53 L644.00,302.71" fill="none" stroke="#3aa53a" stroke-width="1.6"/>
<path d="M383.00,305.67 L383.87,305.47 L384.74,305.28 L385.61,305.08 L386.48,304.88 L387.35,304.67 L388.22,304.47 L389.09,304.27 L389.96,304.06 L390.83,303.85 L391.70,303.64 L392.57,303.43 L393.44,303.22 L394.31,303.00 L395.18,302.79 L396.05,302.57 L396.92,302.35 L397.79,302.13 L398.66,301.91 L399.53,301.69 L400.40,301.46 L401.27,301.24 L402.14,301.01 L403.01,300.78 L403.88,300.54 L404.75,300.31 L405.62,300.07 L406.49,299.84 L407.36,299.60 L408.23,299.36 L409.10,299.11 L409.97,298.87 L410.84,298.62 L411.71,298.37 L412.58,298.12 L413.45,297.86 L414.32,297.61 L415.19,297.35 L416.06,297.09 L416.93,296.82 L417.80,296.56 L418.67,296.29 L419.54,296.02 L420.41,295.75 L421.28,295.47 L422.15,295.20 L423.02,294.92 L423.89,294.63 L424.76,294.35 L425.63,294.06 L426.50,293.77 L427.37,293.47 L428.24,293.18 L429.11,292.88 L429.98,292.57 L430.85,292.27 L431.72,291.96 L432.59,291.65 L433.46,291.33 L434.33,291.01 L435.20,290.69 L436.07,290.36 L436.94,290.03 L437.81,289.70 L438.68,289.36 L439.55,289.02 L440.42,288.68 L441.29,288.33 L442.16,287.98 L443.03,287.62 L443.90,287.26 L444.77,286.89 L445.64,286.52 L446.51,286.15 L447.38,285.77 L448.25,285.38 L449.12,284.99 L449.99,284.60 L450.86,284.20 L451.73,283.79 L452.60,283.38 L453.47,282.97 L454.34,282.55 L455.21,282.12 L456.08,281.68 L456.95,281.24 L457.82,280.80 L458.69,280.34 L459.56,279.88 L460.43,279.41 L461.30,278.94 L462.17,278.46 L463.04,277.97 L463.91,277.47 L464.78,276.96 L465.65,276.45 L466.52,275.92 L467.39,275.39 L468.26,274.85 L469.13,274.30 L470.00,273.74 L470.87,273.16 L471.74,272.58 L472.61,271.99 L473.48,271.38 L474.35,270.76 L475.22,270.13 L476.09,269.49 L476.96,268.83 L477.83,268.16 L478.70,267.48 L479.57,266.78 L480.44,266.06 L481.31,265.33 L482.18,264.58 L483.05,263.81 L483.92,263.03 L484.79,262.22 L485.66,261.40 L486.53,260.55 L487.40,259.68 L488.27,258.79 L489.14,257.88 L490.01,256.94 L490.88,255.97 L491.75,254.98 L492.62,253.95 L493.49,252.90 L494.36,251.82 L495.23,250.70 L496.10,249.56 L496.97,248.38 L497.84,247.16 L498.71,245.92 L499.58,244.63 L500.45,243.32 L501.32,241.97 L502.19,240.60 L503.06,239.20 L503.93,237.79 L504.80,236.37 L505.67,234.96 L506.54,233.57 L507.41,232.22 L508.28,230.95 L509.15,229.78 L510.02,228.75 L510.89,227.89 L511.76,227.25 L512.63,226.85 L513.50,226.71 L514.37,226.85 L515.24,227.25 L516.11,227.89 L516.98,228.75 L517.85,229.78 L518.72,230.95 L519.59,232.22 L520.46,233.57 L521.33,234.96 L522.20,236.37 L523.07,237.79 L523.94,239.20 L524.81,240.60 L525.68,241.97 L526.55,243.32 L527.42,244.63 L528.29,245.92 L529.16,247.16 L530.03,248.38 L530.90,249.56 L531.77,250.70 L532.64,251.82 L533.51,252.90 L534.38,253.95 L535.25,254.98 L536.12,255.97 L536.99,256.94 L537.86,257.88 L538.73,258.79 L539.60,259.68 L540.47,260.55 L541.34,261.40 L542.21,262.22 L543.08,263.03 L543.95,263.81 L544.82,264.58 L545.69,265.33 L546.56,266.06 L547.43,266.78 L548.30,267.48 L549.17,268.16 L550.04,268.83 L550.91,269.49 L551.78,270.13 L552.65,270.76 L553.52,271.38 L554.39,271.99 L555.26,272.58 L556.13,273.16 L557.00,273.74 L557.87,274.30 L558.74,274.85 L559.61,275.39 L560.48,275.92 L561.35,276.45 L562.22,276.96 L563.09,277.47 L563.96,277.97 L564.83,278.46 L565.70,278.94 L566.57,279.41 L567.44,279.88 L568.31,280.34 L569.18,280.80 L570.05,281.24 L570.92,281.68 L571.79,282.12 L572.66,282.55 L573.53,282.97 L574.40,283.38 L575.27,283.79 L576.14,284.20 L577.01,284.60 L577.88,284.99 L578.75,285.38 L579.62,285.77 L580.49,286.15 L581.36,286.52 L582.23,286.89 L583.10,287.26 L583.97,287.62 L584.84,287.98 L585.71,288.33 L586.58,288.68 L587.45,289.02 L588.32,289.36 L589.19,289.70 L590.06,290.03 L590.93,290.36 L591.80,290.69 L592.67,291.01 L593.54,291.33 L594.41,291.65 L595.28,291.96 L596.15,292.27 L597.02,292.57 L597.89,292.88 L598.76,293.18 L599.63,293.47 L600.50,293.77 L601.37,294.06 L602.24,294.35 L603.11,294.63 L603.98,294.92 L604.85,295.20 L605.72,295.47 L606.59,295.75 L607.46,296.02 L608.33,296.29 L609.20,296.56 L610.07,296.82 L610.94,297.09 L611.81,297.35 L612.68,297.61 L613.55,297.86 L614.42,298.12 L615.29,298.37 L616.16,298.62 L617.03,298.87 L617.90,299.11 L618.77,299.36 L619.64,299.60 L620.51,299.84 L621.38,300.07 L622.25,300.31 L623.12,300.54 L623.99,300.78 L624.86,301.01 L625.73,301.24 L626.60,301.46 L627.47,301.69 L628.34,301.91 L629.21,302.13 L630.08,302.35 L630.95,302.57 L631.82,302.79 L632.69,303.00 L633.56,303.22 L634.43,303.43 L635.30,303.64 L636.17,303.85 L637.04,304.06 L637.91,304.27 L638.78,304.47 L639.65,304.67 L640.52,304.88 L641.39,305.08 L642.26,305.28 L643.13,305.47 L644.00,305.67" fill="none" stroke="#e85a1e" stroke-width="1.6"/>
<path d="M383.00,275.37 L384.31,277.50 L385.61,281.05 L386.91,276.86 L388.22,275.39 L389.52,275.39 L390.83,279.69 L392.13,276.60 L393.44,277.06 L394.75,274.04 L396.05,275.32 L397.36,278.11 L398.66,276.97 L399.97,276.93 L401.27,275.52 L402.57,278.05 L403.88,278.56 L405.19,277.40 L406.49,272.85 L407.80,280.04 L409.10,276.31 L410.40,272.17 L411.71,276.40 L413.01,273.67 L414.32,277.37 L415.62,276.95 L416.93,275.61 L418.24,281.09 L419.54,270.04 L420.85,276.30 L422.15,273.95 L423.45,274.75 L424.76,271.06 L426.06,270.78 L427.37,272.90 L428.68,278.14 L429.98,276.11 L431.28,271.83 L432.59,278.71 L433.89,271.17 L435.20,273.92 L436.50,274.42 L437.81,271.08 L439.12,267.17 L440.42,269.09 L441.73,272.77 L443.03,266.23 L444.34,267.39 L445.64,271.55 L446.94,269.82 L448.25,267.17 L449.56,272.19 L450.86,268.71 L452.17,268.29 L453.47,268.23 L454.77,267.76 L456.08,262.38 L457.38,268.04 L458.69,265.15 L460.00,266.21 L461.30,263.94 L462.61,262.68 L463.91,260.58 L465.21,261.89 L466.52,259.45 L467.82,263.56 L469.13,258.73 L470.44,258.40 L471.74,261.29 L473.05,255.39 L474.35,259.68 L475.65,257.22 L476.96,254.49 L478.26,257.66 L479.57,257.87 L480.88,252.70 L482.18,257.95 L483.49,251.21 L484.79,250.77 L486.10,252.25 L487.40,254.69 L488.70,251.92 L490.01,249.46 L491.31,244.09 L492.62,249.43 L493.93,244.78 L495.23,246.13 L496.53,248.92 L497.84,241.91 L499.14,239.95 L500.45,244.17 L501.75,238.97 L503.06,235.09 L504.18,234.47 L504.49,234.02 L504.80,233.57 L505.11,233.12 L505.42,232.66 L505.73,232.20 L506.04,231.73 L506.35,231.25 L506.66,230.76 L506.98,230.25 L507.29,229.70 L507.60,229.08 L507.91,228.39 L508.22,227.57 L508.53,226.60 L508.84,225.44 L509.15,224.06 L509.46,222.47 L509.77,220.67 L510.08,218.71 L510.39,216.64 L510.70,214.53 L511.01,212.45 L511.32,210.47 L511.64,208.66 L511.95,207.05 L512.26,205.68 L512.57,204.58 L512.88,203.78 L513.19,203.29 L513.50,203.11 L513.81,203.29 L514.12,203.78 L514.43,204.58 L514.74,205.68 L515.05,207.05 L515.36,208.66 L515.67,210.47 L515.99,212.45 L516.30,214.53 L516.61,216.64 L516.92,218.71 L517.23,220.67 L517.54,222.47 L517.85,224.06 L518.16,225.44 L518.47,226.60 L518.78,227.57 L519.09,228.39 L519.40,229.08 L519.71,229.70 L520.02,230.25 L520.34,230.76 L520.65,231.25 L520.96,231.73 L521.27,232.20 L521.58,232.66 L521.89,233.12 L522.20,233.57 L522.51,234.02 L522.82,234.47 L523.94,232.85 L525.25,237.75 L526.55,239.63 L527.86,241.13 L529.16,241.10 L530.47,245.32 L531.77,245.00 L533.08,246.51 L534.38,248.14 L535.68,243.36 L536.99,246.95 L538.29,250.18 L539.60,254.43 L540.90,249.27 L542.21,255.08 L543.51,252.38 L544.82,259.07 L546.12,258.48 L547.43,259.05 L548.74,254.80 L550.04,255.98 L551.35,264.83 L552.65,258.29 L553.96,258.93 L555.26,261.27 L556.57,259.87 L557.87,262.30 L559.17,267.53 L560.48,267.42 L561.78,265.12 L563.09,261.64 L564.39,266.30 L565.70,263.14 L567.00,260.75 L568.31,265.99 L569.62,267.21 L570.92,264.98 L572.23,266.88 L573.53,266.39 L574.84,268.25 L576.14,270.62 L577.44,270.04 L578.75,270.50 L580.06,269.69 L581.36,268.65 L582.66,270.41 L583.97,271.74 L585.27,265.68 L586.58,274.71 L587.88,271.74 L589.19,272.84 L590.50,274.76 L591.80,275.22 L593.11,273.36 L594.41,273.81 L595.72,271.69 L597.02,273.72 L598.33,274.69 L599.63,275.65 L600.93,270.23 L602.24,276.26 L603.54,277.86 L604.85,273.53 L606.15,268.36 L607.46,275.64 L608.76,274.26 L610.07,274.60 L611.38,274.34 L612.68,276.04 L613.99,277.85 L615.29,275.52 L616.60,277.11 L617.90,274.06 L619.21,277.80 L620.51,278.60 L621.82,274.61 L623.12,272.81 L624.42,275.12 L625.73,278.09 L627.03,280.49 L628.34,277.12 L629.64,272.70 L630.95,274.30 L632.25,278.03 L633.56,279.54 L634.87,278.54 L636.17,274.01 L637.48,273.18 L638.78,279.37 L640.09,276.54 L641.39,278.10 L642.69,273.49 L644.00,281.49" fill="none" stroke="#111" stroke-width="1.6" stroke-linejoin="round"/>
<path d="M383.00,277.79 L383.65,277.19 L384.31,279.63 L384.96,279.13 L385.61,278.04 L386.26,276.07 L386.91,278.30 L387.57,277.33 L388.22,277.30 L388.87,277.78 L389.52,277.81 L390.18,277.57 L390.83,275.92 L391.48,276.99 L392.13,277.84 L392.79,276.77 L393.44,277.06 L394.09,276.39 L394.75,277.01 L395.40,276.51 L396.05,278.28 L396.70,276.97 L397.36,277.71 L398.01,274.87 L398.66,275.94 L399.31,277.17 L399.97,277.28 L400.62,276.48 L401.27,277.30 L401.92,274.79 L402.57,276.51 L403.23,276.92 L403.88,277.55 L404.53,275.11 L405.19,276.59 L405.84,274.81 L406.49,275.94 L407.14,276.42 L407.80,276.94 L408.45,274.45 L409.10,276.57 L409.75,274.83 L410.40,274.99 L411.06,275.99 L411.71,275.30 L412.36,275.73 L413.01,275.22 L413.67,274.96 L414.32,274.65 L414.97,274.90 L415.62,274.46 L416.28,274.39 L416.93,275.87 L417.58,275.53 L418.24,274.62 L418.89,275.85 L419.54,274.30 L420.19,272.70 L420.85,275.38 L421.50,272.53 L422.15,273.23 L422.80,273.34 L423.45,274.46 L424.11,273.16 L424.76,272.07 L425.41,273.24 L426.06,272.83 L426.72,272.51 L427.37,273.47 L428.02,273.04 L428.68,273.33 L429.33,272.76 L429.98,272.16 L430.63,272.43 L431.28,272.56 L431.94,271.95 L432.59,270.98 L433.24,274.01 L433.89,272.98 L434.55,273.32 L435.20,271.65 L435.85,272.05 L436.50,270.12 L437.16,272.02 L437.81,271.27 L438.46,271.05 L439.12,271.09 L439.77,269.99 L440.42,269.70 L441.07,269.51 L441.73,271.48 L442.38,270.26 L443.03,270.77 L443.68,270.39 L444.34,270.18 L444.99,270.21 L445.64,268.59 L446.29,269.12 L446.94,267.31 L447.60,268.52 L448.25,268.05 L448.90,268.98 L449.56,268.37 L450.21,266.68 L450.86,269.07 L451.51,267.58 L452.17,266.98 L452.82,268.27 L453.47,266.04 L454.12,267.07 L454.77,266.30 L455.43,266.25 L456.08,265.42 L456.73,266.99 L457.38,265.30 L458.04,267.30 L458.69,265.18 L459.34,265.89 L460.00,266.52 L460.65,265.57 L461.30,266.12 L461.95,263.27 L462.61,267.30 L463.26,263.39 L463.91,265.35 L464.56,264.23 L465.21,262.80 L465.87,262.74 L466.52,262.70 L467.17,262.11 L467.82,263.22 L468.48,262.02 L469.13,260.97 L469.78,262.44 L470.44,262.57 L471.09,260.10 L471.74,260.80 L472.39,258.91 L473.05,260.93 L473.70,259.27 L474.35,258.63 L475.00,258.50 L475.65,259.09 L476.31,257.56 L476.96,259.05 L477.61,257.80 L478.26,257.90 L478.92,257.48 L479.57,257.36 L480.22,257.52 L480.88,256.60 L481.53,255.25 L482.18,256.27 L482.83,255.39 L483.49,255.41 L484.14,253.67 L484.79,254.20 L485.44,253.45 L486.10,254.13 L486.75,252.66 L487.40,251.85 L488.05,252.67 L488.70,251.29 L489.36,251.71 L490.01,249.41 L490.66,248.07 L491.31,250.94 L491.97,247.84 L492.62,246.48 L493.27,247.54 L493.93,246.58 L494.58,246.71 L495.23,247.02 L495.88,243.36 L496.53,245.39 L497.19,245.37 L497.84,243.65 L498.49,241.30 L499.14,240.56 L499.80,240.94 L500.45,238.60 L501.10,238.18 L501.75,238.01 L502.41,236.98 L503.06,236.07 L503.71,235.14 L504.37,234.20 L505.02,233.25 L505.67,232.29 L506.32,231.30 L506.98,230.25 L507.63,229.02 L508.28,227.39 L508.93,225.05 L509.58,221.77 L510.24,217.68 L510.89,213.27 L511.54,209.18 L512.20,205.93 L512.85,203.85 L513.50,203.11 L514.15,203.85 L514.80,205.93 L515.46,209.18 L516.11,213.27 L516.76,217.68 L517.41,221.77 L518.07,225.05 L518.72,227.39 L519.37,229.02 L520.02,230.25 L520.68,231.30 L521.33,232.29 L521.98,233.25 L522.63,234.20 L523.29,235.14 L523.94,236.07 L524.59,236.98 L525.25,237.97 L525.90,238.24 L526.55,239.46 L527.20,240.77 L527.86,241.95 L528.51,242.05 L529.16,243.70 L529.81,243.74 L530.47,244.07 L531.12,245.00 L531.77,244.80 L532.42,246.34 L533.08,246.93 L533.73,248.52 L534.38,247.85 L535.03,248.83 L535.68,251.31 L536.34,248.66 L536.99,250.31 L537.64,252.03 L538.29,250.62 L538.95,251.35 L539.60,251.48 L540.25,252.47 L540.90,252.93 L541.56,254.50 L542.21,254.58 L542.86,254.56 L543.51,256.32 L544.17,255.03 L544.82,254.09 L545.47,258.62 L546.12,255.51 L546.78,258.25 L547.43,256.23 L548.08,259.14 L548.74,256.03 L549.39,258.65 L550.04,259.03 L550.69,259.46 L551.35,258.21 L552.00,260.71 L552.65,260.04 L553.30,259.66 L553.96,259.86 L554.61,260.91 L555.26,261.34 L555.91,261.38 L556.57,262.15 L557.22,262.08 L557.87,260.24 L558.52,263.10 L559.17,261.66 L559.83,261.56 L560.48,262.67 L561.13,263.99 L561.78,262.99 L562.44,264.13 L563.09,264.74 L563.74,264.35 L564.39,264.75 L565.05,264.59 L565.70,264.29 L566.35,265.14 L567.00,265.40 L567.66,265.34 L568.31,264.36 L568.96,265.91 L569.62,265.73 L570.27,266.53 L570.92,266.75 L571.57,266.69 L572.23,268.49 L572.88,266.45 L573.53,268.72 L574.18,266.36 L574.84,266.88 L575.49,268.85 L576.14,266.93 L576.79,268.50 L577.44,267.16 L578.10,269.83 L578.75,268.37 L579.40,270.03 L580.06,269.40 L580.71,269.40 L581.36,270.07 L582.01,269.03 L582.66,267.89 L583.32,271.75 L583.97,269.95 L584.62,269.68 L585.27,269.34 L585.93,270.20 L586.58,270.05 L587.23,270.32 L587.88,270.55 L588.54,273.17 L589.19,270.23 L589.84,270.66 L590.50,270.90 L591.15,270.16 L591.80,272.37 L592.45,273.24 L593.11,271.43 L593.76,272.12 L594.41,271.07 L595.06,274.82 L595.72,273.52 L596.37,270.93 L597.02,271.38 L597.67,272.76 L598.33,271.72 L598.98,273.88 L599.63,272.28 L600.28,273.02 L600.93,274.37 L601.59,273.27 L602.24,275.12 L602.89,274.04 L603.54,274.33 L604.20,274.24 L604.85,273.33 L605.50,274.20 L606.15,273.20 L606.81,274.52 L607.46,273.02 L608.11,274.15 L608.76,274.38 L609.42,274.32 L610.07,274.71 L610.72,275.21 L611.38,274.35 L612.03,275.80 L612.68,275.11 L613.33,274.98 L613.99,275.38 L614.64,274.78 L615.29,275.25 L615.94,273.68 L616.60,276.68 L617.25,275.48 L617.90,276.36 L618.55,275.99 L619.21,274.57 L619.86,276.42 L620.51,277.77 L621.16,275.67 L621.82,276.54 L622.47,276.36 L623.12,275.89 L623.77,275.82 L624.42,275.46 L625.08,275.92 L625.73,275.72 L626.38,276.35 L627.03,277.29 L627.69,276.32 L628.34,276.44 L628.99,277.25 L629.64,276.79 L630.30,277.43 L630.95,276.91 L631.60,276.95 L632.25,277.22 L632.91,278.84 L633.56,277.76 L634.21,276.67 L634.87,277.22 L635.52,275.81 L636.17,276.76 L636.82,276.53 L637.48,277.62 L638.13,276.87 L638.78,277.37 L639.43,278.37 L640.09,277.94 L640.74,278.94 L641.39,277.35 L642.04,277.83 L642.69,278.19 L643.35,278.17 L644.00,278.24" fill="none" stroke="#eee638" stroke-width="1.9" stroke-linejoin="round"/>
</g>
<line x1="499.51785714285717" y1="184.6" x2="499.51785714285717" y2="360.8" stroke="#e5302c" stroke-width="1.6" stroke-dasharray="4.4 4" stroke-dashoffset="2.6"/>
<line x1="527.4821428571429" y1="184.6" x2="527.4821428571429" y2="360.8" stroke="#e5302c" stroke-width="1.6" stroke-dasharray="4.4 4" stroke-dashoffset="2.6"/>
<rect x="383.0" y="184.6" width="261.0" height="176.20000000000002" fill="none" stroke="#231f20" stroke-width="2.0"/>
<line x1="644.0" y1="189.8" x2="648.0" y2="189.8" stroke="#231f20" stroke-width="1.5" />
<text stroke="#231f20" stroke-width="0.18" id="t48" x="647.3" y="194.70000000000002" font-size="13.2" fill="#231f20">10<tspan font-size="8.8" dy="-4.6">4</tspan></text>
<line x1="644.0" y1="257.9" x2="648.0" y2="257.9" stroke="#231f20" stroke-width="1.5" />
<text stroke="#231f20" stroke-width="0.18" id="t49" x="647.3" y="262.79999999999995" font-size="13.2" fill="#231f20">10<tspan font-size="8.8" dy="-4.6">2</tspan></text>
<line x1="644.0" y1="326.0" x2="648.0" y2="326.0" stroke="#231f20" stroke-width="1.5" />
<text stroke="#231f20" stroke-width="0.18" id="t50" x="647.3" y="330.9" font-size="13.2" fill="#231f20">10<tspan font-size="8.8" dy="-4.6">0</tspan></text>
<line x1="420.2857142857143" y1="360.8" x2="420.2857142857143" y2="364.6" stroke="#231f20" stroke-width="1.4" />
<line x1="466.89285714285717" y1="360.8" x2="466.89285714285717" y2="364.6" stroke="#231f20" stroke-width="1.4" />
<line x1="513.5" y1="360.8" x2="513.5" y2="368.6" stroke="#231f20" stroke-width="1.4" />
<line x1="560.1071428571429" y1="360.8" x2="560.1071428571429" y2="364.6" stroke="#231f20" stroke-width="1.4" />
<line x1="606.7142857142857" y1="360.8" x2="606.7142857142857" y2="364.6" stroke="#231f20" stroke-width="1.4" />
<line x1="383.0" y1="360.8" x2="383.0" y2="368.4" stroke="#231f20" stroke-width="1.4" />
<line x1="644.0" y1="360.8" x2="644.0" y2="368.4" stroke="#231f20" stroke-width="1.4" />
<text stroke="#231f20" stroke-width="0.18" id="t51" x="383.0" y="378.2" font-size="14" text-anchor="middle" font-weight="normal" font-style="normal" fill="#231f20" >-28</text>
<text stroke="#231f20" stroke-width="0.18" id="t52" x="513.5" y="380.7" font-size="14" text-anchor="middle" font-weight="normal" font-style="normal" fill="#231f20" >0</text>
<text stroke="#231f20" stroke-width="0.18" id="t53" x="644.0" y="380.7" font-size="14" text-anchor="middle" font-weight="normal" font-style="normal" fill="#231f20" >28</text>
<text stroke="#231f20" stroke-width="0.18" id="t54" x="484.6" y="395.8" font-size="16.6" fill="#231f20"><tspan font-style="italic">E</tspan> (μeV)</text>
<text stroke="#231f20" stroke-width="0.09" id="t55" x="386.6" y="217.6" font-size="39" text-anchor="start" font-weight="bold" font-style="normal" fill="#231f20" >d</text>
<text stroke="#231f20" stroke-width="0.09" id="t56" x="391.5" y="238.0" font-size="13.5" text-anchor="start" font-weight="bold" font-style="normal" fill="#231f20" >QENS</text>
<text stroke="#231f20" stroke-width="0.18" id="t57" x="391.5" y="253.6" font-size="13.5" text-anchor="start" font-weight="normal" font-style="normal" fill="#231f20" >330 K</text>
<line x1="543.9" y1="195.1" x2="563.5" y2="195.1" stroke="#111" stroke-width="2.6" />
<text stroke="#231f20" stroke-width="0.18" id="t58" x="565.6" y="200.6" font-size="14" text-anchor="start" font-weight="normal" font-style="normal" fill="#231f20" >Data</text>
<line x1="543.9" y1="212.2" x2="563.5" y2="212.2" stroke="#eee638" stroke-width="2.6" />
<text stroke="#231f20" stroke-width="0.18" id="t59" x="565.6" y="217.5" font-size="14" text-anchor="start" font-weight="normal" font-style="normal" fill="#231f20" >Fit</text>
<line x1="543.9" y1="228.9" x2="563.5" y2="228.9" stroke="#3aa53a" stroke-width="2.6" />
<text stroke="#231f20" stroke-width="0.18" id="t60" x="565.6" y="234.9" font-size="14" fill="#231f20">L<tspan font-size="9.2" dy="4.4">2</tspan></text>
<line x1="543.9" y1="245.8" x2="563.5" y2="245.8" stroke="#e85a1e" stroke-width="2.6" />
<text stroke="#231f20" stroke-width="0.18" id="t61" x="565.6" y="251.3" font-size="14" fill="#231f20">L<tspan font-size="9.2" dy="4.4">3</tspan></text>
<line x1="586.4" y1="230.7" x2="606.8" y2="230.7" stroke="#6e6e6e" stroke-width="2.6" />
<text stroke="#231f20" stroke-width="0.18" id="t62" x="608.6" y="234.9" font-size="14" text-anchor="start" font-weight="normal" font-style="normal" fill="#231f20" >Res.</text>
<line x1="586.4" y1="245.8" x2="606.8" y2="245.8" stroke="#8a4840" stroke-width="2.6" />
<text stroke="#231f20" stroke-width="0.18" id="t63" x="608.6" y="251.3" font-size="14" text-anchor="start" font-weight="normal" font-style="normal" fill="#231f20" >Bkg.</text>
<text stroke="#231f20" stroke-width="0.18" id="t64" transform="translate(671.6,182.6) rotate(90)" text-anchor="middle" font-size="16" fill="#231f20"><tspan font-style="italic">I</tspan> (a.u.)</text>
<path d="M61.50,515.40 L89.00,503.00 L117.20,501.10 L143.90,508.80 L171.40,506.10 L197.20,507.60 L222.10,503.80 L244.90,505.80 L264.70,508.80 L285.10,503.80 L303.80,505.80 L320.80,506.70 L336.00,504.70 L349.10,506.70" fill="none" stroke="#3f7fc1" stroke-width="1.7" />
<line x1="61.5" y1="512.1" x2="61.5" y2="518.6999999999999" stroke="#3f7fc1" stroke-width="1.6" />
<line x1="58.4" y1="512.1" x2="64.6" y2="512.1" stroke="#3f7fc1" stroke-width="1.6" />
<line x1="58.4" y1="518.6999999999999" x2="64.6" y2="518.6999999999999" stroke="#3f7fc1" stroke-width="1.6" />
<circle cx="61.5" cy="515.4" r="2.9" fill="#3f7fc1"/>
<line x1="89.0" y1="500.4" x2="89.0" y2="505.6" stroke="#3f7fc1" stroke-width="1.6" />
<line x1="85.9" y1="500.4" x2="92.1" y2="500.4" stroke="#3f7fc1" stroke-width="1.6" />
<line x1="85.9" y1="505.6" x2="92.1" y2="505.6" stroke="#3f7fc1" stroke-width="1.6" />
<circle cx="89.0" cy="503.0" r="2.9" fill="#3f7fc1"/>
<line x1="117.2" y1="499.1" x2="117.2" y2="503.1" stroke="#3f7fc1" stroke-width="1.6" />
<line x1="114.10000000000001" y1="499.1" x2="120.3" y2="499.1" stroke="#3f7fc1" stroke-width="1.6" />
<line x1="114.10000000000001" y1="503.1" x2="120.3" y2="503.1" stroke="#3f7fc1" stroke-width="1.6" />
<circle cx="117.2" cy="501.1" r="2.9" fill="#3f7fc1"/>
<line x1="143.9" y1="506.8" x2="143.9" y2="510.8" stroke="#3f7fc1" stroke-width="1.6" />
<line x1="140.8" y1="506.8" x2="147.0" y2="506.8" stroke="#3f7fc1" stroke-width="1.6" />
<line x1="140.8" y1="510.8" x2="147.0" y2="510.8" stroke="#3f7fc1" stroke-width="1.6" />
<circle cx="143.9" cy="508.8" r="2.9" fill="#3f7fc1"/>
<line x1="171.4" y1="504.6" x2="171.4" y2="507.6" stroke="#3f7fc1" stroke-width="1.6" />
<line x1="168.3" y1="504.6" x2="174.5" y2="504.6" stroke="#3f7fc1" stroke-width="1.6" />
<line x1="168.3" y1="507.6" x2="174.5" y2="507.6" stroke="#3f7fc1" stroke-width="1.6" />
<circle cx="171.4" cy="506.1" r="2.9" fill="#3f7fc1"/>
<line x1="197.2" y1="506.1" x2="197.2" y2="509.1" stroke="#3f7fc1" stroke-width="1.6" />
<line x1="194.1" y1="506.1" x2="200.29999999999998" y2="506.1" stroke="#3f7fc1" stroke-width="1.6" />
<line x1="194.1" y1="509.1" x2="200.29999999999998" y2="509.1" stroke="#3f7fc1" stroke-width="1.6" />
<circle cx="197.2" cy="507.6" r="2.9" fill="#3f7fc1"/>
<line x1="222.1" y1="502.3" x2="222.1" y2="505.3" stroke="#3f7fc1" stroke-width="1.6" />
<line x1="219.0" y1="502.3" x2="225.2" y2="502.3" stroke="#3f7fc1" stroke-width="1.6" />
<line x1="219.0" y1="505.3" x2="225.2" y2="505.3" stroke="#3f7fc1" stroke-width="1.6" />
<circle cx="222.1" cy="503.8" r="2.9" fill="#3f7fc1"/>
<line x1="244.9" y1="504.3" x2="244.9" y2="507.3" stroke="#3f7fc1" stroke-width="1.6" />
<line x1="241.8" y1="504.3" x2="248.0" y2="504.3" stroke="#3f7fc1" stroke-width="1.6" />
<line x1="241.8" y1="507.3" x2="248.0" y2="507.3" stroke="#3f7fc1" stroke-width="1.6" />
<circle cx="244.9" cy="505.8" r="2.9" fill="#3f7fc1"/>
<line x1="264.7" y1="507.3" x2="264.7" y2="510.3" stroke="#3f7fc1" stroke-width="1.6" />
<line x1="261.59999999999997" y1="507.3" x2="267.8" y2="507.3" stroke="#3f7fc1" stroke-width="1.6" />
<line x1="261.59999999999997" y1="510.3" x2="267.8" y2="510.3" stroke="#3f7fc1" stroke-width="1.6" />
<circle cx="264.7" cy="508.8" r="2.9" fill="#3f7fc1"/>
<line x1="285.1" y1="502.3" x2="285.1" y2="505.3" stroke="#3f7fc1" stroke-width="1.6" />
<line x1="282.0" y1="502.3" x2="288.20000000000005" y2="502.3" stroke="#3f7fc1" stroke-width="1.6" />
<line x1="282.0" y1="505.3" x2="288.20000000000005" y2="505.3" stroke="#3f7fc1" stroke-width="1.6" />
<circle cx="285.1" cy="503.8" r="2.9" fill="#3f7fc1"/>
<line x1="303.8" y1="504.3" x2="303.8" y2="507.3" stroke="#3f7fc1" stroke-width="1.6" />
<line x1="300.7" y1="504.3" x2="306.90000000000003" y2="504.3" stroke="#3f7fc1" stroke-width="1.6" />
<line x1="300.7" y1="507.3" x2="306.90000000000003" y2="507.3" stroke="#3f7fc1" stroke-width="1.6" />
<circle cx="303.8" cy="505.8" r="2.9" fill="#3f7fc1"/>
<line x1="320.8" y1="505.2" x2="320.8" y2="508.2" stroke="#3f7fc1" stroke-width="1.6" />
<line x1="317.7" y1="505.2" x2="323.90000000000003" y2="505.2" stroke="#3f7fc1" stroke-width="1.6" />
<line x1="317.7" y1="508.2" x2="323.90000000000003" y2="508.2" stroke="#3f7fc1" stroke-width="1.6" />
<circle cx="320.8" cy="506.7" r="2.9" fill="#3f7fc1"/>
<line x1="336.0" y1="503.2" x2="336.0" y2="506.2" stroke="#3f7fc1" stroke-width="1.6" />
<line x1="332.9" y1="503.2" x2="339.1" y2="503.2" stroke="#3f7fc1" stroke-width="1.6" />
<line x1="332.9" y1="506.2" x2="339.1" y2="506.2" stroke="#3f7fc1" stroke-width="1.6" />
<circle cx="336.0" cy="504.7" r="2.9" fill="#3f7fc1"/>
<line x1="349.1" y1="505.2" x2="349.1" y2="508.2" stroke="#3f7fc1" stroke-width="1.6" />
<line x1="346.0" y1="505.2" x2="352.20000000000005" y2="505.2" stroke="#3f7fc1" stroke-width="1.6" />
<line x1="346.0" y1="508.2" x2="352.20000000000005" y2="508.2" stroke="#3f7fc1" stroke-width="1.6" />
<circle cx="349.1" cy="506.7" r="2.9" fill="#3f7fc1"/>
<path d="M61.50,484.30 L89.00,489.50 L117.20,499.90 L143.90,500.90 L171.40,492.10 L197.20,504.40 L222.10,484.00 L244.90,496.50 L264.70,497.40 L285.10,490.10 L303.80,496.50 L320.80,491.50 L336.00,487.70 L349.10,481.90" fill="none" stroke="#4bae4a" stroke-width="1.7" stroke-dasharray="5 2.5"/>
<line x1="61.5" y1="475.40000000000003" x2="61.5" y2="493.2" stroke="#4bae4a" stroke-width="1.6" />
<line x1="58.4" y1="475.40000000000003" x2="64.6" y2="475.40000000000003" stroke="#4bae4a" stroke-width="1.6" />
<line x1="58.4" y1="493.2" x2="64.6" y2="493.2" stroke="#4bae4a" stroke-width="1.6" />
<circle cx="61.5" cy="484.3" r="2.9" fill="#4bae4a"/>
<line x1="89.0" y1="482.9" x2="89.0" y2="496.1" stroke="#4bae4a" stroke-width="1.6" />
<line x1="85.9" y1="482.9" x2="92.1" y2="482.9" stroke="#4bae4a" stroke-width="1.6" />
<line x1="85.9" y1="496.1" x2="92.1" y2="496.1" stroke="#4bae4a" stroke-width="1.6" />
<circle cx="89.0" cy="489.5" r="2.9" fill="#4bae4a"/>
<line x1="117.2" y1="494.59999999999997" x2="117.2" y2="505.2" stroke="#4bae4a" stroke-width="1.6" />
<line x1="114.10000000000001" y1="494.59999999999997" x2="120.3" y2="494.59999999999997" stroke="#4bae4a" stroke-width="1.6" />
<line x1="114.10000000000001" y1="505.2" x2="120.3" y2="505.2" stroke="#4bae4a" stroke-width="1.6" />
<circle cx="117.2" cy="499.9" r="2.9" fill="#4bae4a"/>
<line x1="143.9" y1="496.09999999999997" x2="143.9" y2="505.7" stroke="#4bae4a" stroke-width="1.6" />
<line x1="140.8" y1="496.09999999999997" x2="147.0" y2="496.09999999999997" stroke="#4bae4a" stroke-width="1.6" />
<line x1="140.8" y1="505.7" x2="147.0" y2="505.7" stroke="#4bae4a" stroke-width="1.6" />
<circle cx="143.9" cy="500.9" r="2.9" fill="#4bae4a"/>
<line x1="171.4" y1="488.1" x2="171.4" y2="496.1" stroke="#4bae4a" stroke-width="1.6" />
<line x1="168.3" y1="488.1" x2="174.5" y2="488.1" stroke="#4bae4a" stroke-width="1.6" />
<line x1="168.3" y1="496.1" x2="174.5" y2="496.1" stroke="#4bae4a" stroke-width="1.6" />
<circle cx="171.4" cy="492.1" r="2.9" fill="#4bae4a"/>
<line x1="197.2" y1="501.4" x2="197.2" y2="507.4" stroke="#4bae4a" stroke-width="1.6" />
<line x1="194.1" y1="501.4" x2="200.29999999999998" y2="501.4" stroke="#4bae4a" stroke-width="1.6" />
<line x1="194.1" y1="507.4" x2="200.29999999999998" y2="507.4" stroke="#4bae4a" stroke-width="1.6" />
<circle cx="197.2" cy="504.4" r="2.9" fill="#4bae4a"/>
<line x1="222.1" y1="479.4" x2="222.1" y2="488.6" stroke="#4bae4a" stroke-width="1.6" />
<line x1="219.0" y1="479.4" x2="225.2" y2="479.4" stroke="#4bae4a" stroke-width="1.6" />
<line x1="219.0" y1="488.6" x2="225.2" y2="488.6" stroke="#4bae4a" stroke-width="1.6" />
<circle cx="222.1" cy="484.0" r="2.9" fill="#4bae4a"/>
<line x1="244.9" y1="492.3" x2="244.9" y2="500.7" stroke="#4bae4a" stroke-width="1.6" />
<line x1="241.8" y1="492.3" x2="248.0" y2="492.3" stroke="#4bae4a" stroke-width="1.6" />
<line x1="241.8" y1="500.7" x2="248.0" y2="500.7" stroke="#4bae4a" stroke-width="1.6" />
<circle cx="244.9" cy="496.5" r="2.9" fill="#4bae4a"/>
<line x1="264.7" y1="492.9" x2="264.7" y2="501.9" stroke="#4bae4a" stroke-width="1.6" />
<line x1="261.59999999999997" y1="492.9" x2="267.8" y2="492.9" stroke="#4bae4a" stroke-width="1.6" />
<line x1="261.59999999999997" y1="501.9" x2="267.8" y2="501.9" stroke="#4bae4a" stroke-width="1.6" />
<circle cx="264.7" cy="497.4" r="2.9" fill="#4bae4a"/>
<line x1="285.1" y1="486.1" x2="285.1" y2="494.1" stroke="#4bae4a" stroke-width="1.6" />
<line x1="282.0" y1="486.1" x2="288.20000000000005" y2="486.1" stroke="#4bae4a" stroke-width="1.6" />
<line x1="282.0" y1="494.1" x2="288.20000000000005" y2="494.1" stroke="#4bae4a" stroke-width="1.6" />
<circle cx="285.1" cy="490.1" r="2.9" fill="#4bae4a"/>
<line x1="303.8" y1="492.5" x2="303.8" y2="500.5" stroke="#4bae4a" stroke-width="1.6" />
<line x1="300.7" y1="492.5" x2="306.90000000000003" y2="492.5" stroke="#4bae4a" stroke-width="1.6" />
<line x1="300.7" y1="500.5" x2="306.90000000000003" y2="500.5" stroke="#4bae4a" stroke-width="1.6" />
<circle cx="303.8" cy="496.5" r="2.9" fill="#4bae4a"/>
<line x1="320.8" y1="487.5" x2="320.8" y2="495.5" stroke="#4bae4a" stroke-width="1.6" />
<line x1="317.7" y1="487.5" x2="323.90000000000003" y2="487.5" stroke="#4bae4a" stroke-width="1.6" />
<line x1="317.7" y1="495.5" x2="323.90000000000003" y2="495.5" stroke="#4bae4a" stroke-width="1.6" />
<circle cx="320.8" cy="491.5" r="2.9" fill="#4bae4a"/>
<line x1="336.0" y1="483.5" x2="336.0" y2="491.9" stroke="#4bae4a" stroke-width="1.6" />
<line x1="332.9" y1="483.5" x2="339.1" y2="483.5" stroke="#4bae4a" stroke-width="1.6" />
<line x1="332.9" y1="491.9" x2="339.1" y2="491.9" stroke="#4bae4a" stroke-width="1.6" />
<circle cx="336.0" cy="487.7" r="2.9" fill="#4bae4a"/>
<line x1="349.1" y1="476.4" x2="349.1" y2="487.4" stroke="#4bae4a" stroke-width="1.6" />
<line x1="346.0" y1="476.4" x2="352.20000000000005" y2="476.4" stroke="#4bae4a" stroke-width="1.6" />
<line x1="346.0" y1="487.4" x2="352.20000000000005" y2="487.4" stroke="#4bae4a" stroke-width="1.6" />
<circle cx="349.1" cy="481.9" r="2.9" fill="#4bae4a"/>
<path d="M61.50,556.80 L89.00,555.60 L117.20,560.30 L143.90,562.20 L171.40,559.30 L197.20,565.10 L222.10,552.60 L244.90,560.10 L264.70,554.00 L285.10,554.00 L303.80,558.40 L320.80,550.50 L336.00,549.90 L349.10,551.10" fill="none" stroke="#e8822c" stroke-width="1.7" stroke-dasharray="7 3.5"/>
<line x1="61.5" y1="553.5999999999999" x2="61.5" y2="560.0" stroke="#e8822c" stroke-width="1.6" />
<line x1="58.4" y1="553.5999999999999" x2="64.6" y2="553.5999999999999" stroke="#e8822c" stroke-width="1.6" />
<line x1="58.4" y1="560.0" x2="64.6" y2="560.0" stroke="#e8822c" stroke-width="1.6" />
<circle cx="61.5" cy="556.8" r="2.9" fill="#e8822c"/>
<line x1="89.0" y1="552.6" x2="89.0" y2="558.6" stroke="#e8822c" stroke-width="1.6" />
<line x1="85.9" y1="552.6" x2="92.1" y2="552.6" stroke="#e8822c" stroke-width="1.6" />
<line x1="85.9" y1="558.6" x2="92.1" y2="558.6" stroke="#e8822c" stroke-width="1.6" />
<circle cx="89.0" cy="555.6" r="2.9" fill="#e8822c"/>
<line x1="117.2" y1="557.3" x2="117.2" y2="563.3" stroke="#e8822c" stroke-width="1.6" />
<line x1="114.10000000000001" y1="557.3" x2="120.3" y2="557.3" stroke="#e8822c" stroke-width="1.6" />
<line x1="114.10000000000001" y1="563.3" x2="120.3" y2="563.3" stroke="#e8822c" stroke-width="1.6" />
<circle cx="117.2" cy="560.3" r="2.9" fill="#e8822c"/>
<line x1="143.9" y1="559.4000000000001" x2="143.9" y2="565.0" stroke="#e8822c" stroke-width="1.6" />
<line x1="140.8" y1="559.4000000000001" x2="147.0" y2="559.4000000000001" stroke="#e8822c" stroke-width="1.6" />
<line x1="140.8" y1="565.0" x2="147.0" y2="565.0" stroke="#e8822c" stroke-width="1.6" />
<circle cx="143.9" cy="562.2" r="2.9" fill="#e8822c"/>
<line x1="171.4" y1="556.8" x2="171.4" y2="561.8" stroke="#e8822c" stroke-width="1.6" />
<line x1="168.3" y1="556.8" x2="174.5" y2="556.8" stroke="#e8822c" stroke-width="1.6" />
<line x1="168.3" y1="561.8" x2="174.5" y2="561.8" stroke="#e8822c" stroke-width="1.6" />
<circle cx="171.4" cy="559.3" r="2.9" fill="#e8822c"/>
<line x1="197.2" y1="562.1" x2="197.2" y2="568.1" stroke="#e8822c" stroke-width="1.6" />
<line x1="194.1" y1="562.1" x2="200.29999999999998" y2="562.1" stroke="#e8822c" stroke-width="1.6" />
<line x1="194.1" y1="568.1" x2="200.29999999999998" y2="568.1" stroke="#e8822c" stroke-width="1.6" />
<circle cx="197.2" cy="565.1" r="2.9" fill="#e8822c"/>
<line x1="222.1" y1="550.1" x2="222.1" y2="555.1" stroke="#e8822c" stroke-width="1.6" />
<line x1="219.0" y1="550.1" x2="225.2" y2="550.1" stroke="#e8822c" stroke-width="1.6" />
<line x1="219.0" y1="555.1" x2="225.2" y2="555.1" stroke="#e8822c" stroke-width="1.6" />
<circle cx="222.1" cy="552.6" r="2.9" fill="#e8822c"/>
<line x1="244.9" y1="557.1" x2="244.9" y2="563.1" stroke="#e8822c" stroke-width="1.6" />
<line x1="241.8" y1="557.1" x2="248.0" y2="557.1" stroke="#e8822c" stroke-width="1.6" />
<line x1="241.8" y1="563.1" x2="248.0" y2="563.1" stroke="#e8822c" stroke-width="1.6" />
<circle cx="244.9" cy="560.1" r="2.9" fill="#e8822c"/>
<line x1="264.7" y1="551.0" x2="264.7" y2="557.0" stroke="#e8822c" stroke-width="1.6" />
<line x1="261.59999999999997" y1="551.0" x2="267.8" y2="551.0" stroke="#e8822c" stroke-width="1.6" />
<line x1="261.59999999999997" y1="557.0" x2="267.8" y2="557.0" stroke="#e8822c" stroke-width="1.6" />
<circle cx="264.7" cy="554.0" r="2.9" fill="#e8822c"/>
<line x1="285.1" y1="551.5" x2="285.1" y2="556.5" stroke="#e8822c" stroke-width="1.6" />
<line x1="282.0" y1="551.5" x2="288.20000000000005" y2="551.5" stroke="#e8822c" stroke-width="1.6" />
<line x1="282.0" y1="556.5" x2="288.20000000000005" y2="556.5" stroke="#e8822c" stroke-width="1.6" />
<circle cx="285.1" cy="554.0" r="2.9" fill="#e8822c"/>
<line x1="303.8" y1="555.4" x2="303.8" y2="561.4" stroke="#e8822c" stroke-width="1.6" />
<line x1="300.7" y1="555.4" x2="306.90000000000003" y2="555.4" stroke="#e8822c" stroke-width="1.6" />
<line x1="300.7" y1="561.4" x2="306.90000000000003" y2="561.4" stroke="#e8822c" stroke-width="1.6" />
<circle cx="303.8" cy="558.4" r="2.9" fill="#e8822c"/>
<line x1="320.8" y1="547.5" x2="320.8" y2="553.5" stroke="#e8822c" stroke-width="1.6" />
<line x1="317.7" y1="547.5" x2="323.90000000000003" y2="547.5" stroke="#e8822c" stroke-width="1.6" />
<line x1="317.7" y1="553.5" x2="323.90000000000003" y2="553.5" stroke="#e8822c" stroke-width="1.6" />
<circle cx="320.8" cy="550.5" r="2.9" fill="#e8822c"/>
<line x1="336.0" y1="546.9" x2="336.0" y2="552.9" stroke="#e8822c" stroke-width="1.6" />
<line x1="332.9" y1="546.9" x2="339.1" y2="546.9" stroke="#e8822c" stroke-width="1.6" />
<line x1="332.9" y1="552.9" x2="339.1" y2="552.9" stroke="#e8822c" stroke-width="1.6" />
<circle cx="336.0" cy="549.9" r="2.9" fill="#e8822c"/>
<line x1="349.1" y1="548.1" x2="349.1" y2="554.1" stroke="#e8822c" stroke-width="1.6" />
<line x1="346.0" y1="548.1" x2="352.20000000000005" y2="548.1" stroke="#e8822c" stroke-width="1.6" />
<line x1="346.0" y1="554.1" x2="352.20000000000005" y2="554.1" stroke="#e8822c" stroke-width="1.6" />
<circle cx="349.1" cy="551.1" r="2.9" fill="#e8822c"/>
<rect x="47.3" y="473.0" width="315.7" height="131.5" fill="none" stroke="#231f20" stroke-width="2.0"/>
<line x1="42.3" y1="509.6" x2="47.3" y2="509.6" stroke="#231f20" stroke-width="1.5" />
<text stroke="#231f20" stroke-width="0.18" id="t65" x="40.5" y="514.4" font-size="13" text-anchor="end" fill="#231f20">10<tspan font-size="8.8" dy="-5">-2</tspan></text>
<line x1="42.3" y1="590.5" x2="47.3" y2="590.5" stroke="#231f20" stroke-width="1.5" />
<text stroke="#231f20" stroke-width="0.18" id="t66" x="40.5" y="595.3" font-size="13" text-anchor="end" fill="#231f20">10<tspan font-size="8.8" dy="-5">-3</tspan></text>
<line x1="64.2" y1="604.5" x2="64.2" y2="609.0" stroke="#231f20" stroke-width="1.5" />
<text stroke="#231f20" stroke-width="0.18" id="t67" x="64.2" y="621.9" font-size="14" text-anchor="middle" font-weight="normal" font-style="normal" fill="#231f20" >0.6</text>
<line x1="110.00000000000003" y1="604.5" x2="110.00000000000003" y2="609.0" stroke="#231f20" stroke-width="1.5" />
<text stroke="#231f20" stroke-width="0.18" id="t68" x="110.00000000000003" y="621.9" font-size="14" text-anchor="middle" font-weight="normal" font-style="normal" fill="#231f20" >0.8</text>
<line x1="155.8" y1="604.5" x2="155.8" y2="609.0" stroke="#231f20" stroke-width="1.5" />
<text stroke="#231f20" stroke-width="0.18" id="t69" x="155.8" y="621.9" font-size="14" text-anchor="middle" font-weight="normal" font-style="normal" fill="#231f20" >1.0</text>
<line x1="201.60000000000002" y1="604.5" x2="201.60000000000002" y2="609.0" stroke="#231f20" stroke-width="1.5" />
<text stroke="#231f20" stroke-width="0.18" id="t70" x="201.60000000000002" y="621.9" font-size="14" text-anchor="middle" font-weight="normal" font-style="normal" fill="#231f20" >1.2</text>
<line x1="247.39999999999998" y1="604.5" x2="247.39999999999998" y2="609.0" stroke="#231f20" stroke-width="1.5" />
<text stroke="#231f20" stroke-width="0.18" id="t71" x="247.39999999999998" y="621.9" font-size="14" text-anchor="middle" font-weight="normal" font-style="normal" fill="#231f20" >1.4</text>
<line x1="293.2" y1="604.5" x2="293.2" y2="609.0" stroke="#231f20" stroke-width="1.5" />
<text stroke="#231f20" stroke-width="0.18" id="t72" x="293.2" y="621.9" font-size="14" text-anchor="middle" font-weight="normal" font-style="normal" fill="#231f20" >1.6</text>
<line x1="339.00000000000006" y1="604.5" x2="339.00000000000006" y2="609.0" stroke="#231f20" stroke-width="1.5" />
<text stroke="#231f20" stroke-width="0.18" id="t73" x="339.00000000000006" y="621.9" font-size="14" text-anchor="middle" font-weight="normal" font-style="normal" fill="#231f20" >1.8</text>
<text stroke="#231f20" stroke-width="0.18" id="t74" x="179.3" y="637.5" font-size="16.0" fill="#231f20"><tspan font-style="italic">Q</tspan> (Å<tspan font-size="10.5" dy="-6">-1</tspan><tspan dy="6">)</tspan></text>
<text stroke="#231f20" stroke-width="0.18" id="t75" transform="translate(13.5,544.3) rotate(-90)" text-anchor="middle" font-size="16.6" fill="#231f20"><tspan font-style="italic">Γ</tspan> (meV)</text>
<text stroke="#231f20" stroke-width="0.09" id="t76" x="51.5" y="596.3" font-size="39" text-anchor="start" font-weight="bold" font-style="normal" fill="#231f20" >e</text>
<line x1="262.4" y1="571.0" x2="285.7" y2="571.0" stroke="#3f7fc1" stroke-width="1.7" />
<circle cx="274" cy="571.0" r="3" fill="#3f7fc1"/>
<text stroke="#231f20" stroke-width="0.18" id="t77" x="287.0" y="575.0" font-size="11.2" text-anchor="start" font-weight="normal" font-style="normal" fill="#231f20" >Mode 1 260 K</text>
<line x1="262.4" y1="583.4" x2="285.7" y2="583.4" stroke="#4bae4a" stroke-width="1.7" stroke-dasharray="3.5 2"/>
<circle cx="274" cy="583.4" r="3" fill="#4bae4a"/>
<text stroke="#231f20" stroke-width="0.18" id="t78" x="287.0" y="587.4" font-size="11.2" text-anchor="start" font-weight="normal" font-style="normal" fill="#231f20" >Mode 2 330 K</text>
<line x1="262.4" y1="595.8" x2="285.7" y2="595.8" stroke="#e8822c" stroke-width="1.7" stroke-dasharray="6 3"/>
<circle cx="274" cy="595.8" r="3" fill="#e8822c"/>
<text stroke="#231f20" stroke-width="0.18" id="t79" x="287.0" y="599.8" font-size="11.2" text-anchor="start" font-weight="normal" font-style="normal" fill="#231f20" >Mode 3 330 K</text>
<clipPath id="cf"><rect x="383.0" y="410.3" width="261.1" height="194.49999999999994"/></clipPath>
<g clip-path="url(#cf)">
<path d="M383.00,410.30 L384.31,410.30 L385.61,410.31 L386.92,410.32 L388.22,410.33 L389.53,410.35 L390.83,410.37 L392.14,410.40 L393.44,410.43 L394.75,410.46 L396.06,410.50 L397.36,410.55 L398.67,410.59 L399.97,410.64 L401.28,410.70 L402.58,410.76 L403.89,410.82 L405.19,410.88 L406.50,410.96 L407.80,411.03 L409.11,411.11 L410.42,411.19 L411.72,411.28 L413.03,411.37 L414.33,411.46 L415.64,411.56 L416.94,411.66 L418.25,411.77 L419.55,411.88 L420.86,411.99 L422.17,412.11 L423.47,412.23 L424.78,412.35 L426.08,412.48 L427.39,412.61 L428.69,412.75 L430.00,412.89 L431.30,413.03 L432.61,413.18 L433.91,413.33 L435.22,413.48 L436.53,413.64 L437.83,413.80 L439.14,413.97 L440.44,414.14 L441.75,414.31 L443.05,414.48 L444.36,414.66 L445.66,414.84 L446.97,415.03 L448.27,415.22 L449.58,415.41 L450.89,415.60 L452.19,415.80 L453.50,416.01 L454.80,416.21 L456.11,416.42 L457.41,416.63 L458.72,416.84 L460.02,417.06 L461.33,417.28 L462.64,417.51 L463.94,417.73 L465.25,417.96 L466.55,418.19 L467.86,418.43 L469.16,418.67 L470.47,418.91 L471.77,419.15 L473.08,419.40 L474.38,419.65 L475.69,419.90 L477.00,420.15 L478.30,420.41 L479.61,420.67 L480.91,420.93 L482.22,421.20 L483.52,421.46 L484.83,421.73 L486.13,422.00 L487.44,422.28 L488.75,422.55 L490.05,422.83 L491.36,423.11 L492.66,423.40 L493.97,423.68 L495.27,423.97 L496.58,424.26 L497.88,424.55 L499.19,424.84 L500.50,425.14 L501.80,425.43 L503.11,425.73 L504.41,426.03 L505.72,426.33 L507.02,426.64 L508.33,426.94 L509.63,427.25 L510.94,427.56 L512.24,427.87 L513.55,428.18 L514.86,428.49 L516.16,428.80 L517.47,429.12 L518.77,429.43 L520.08,429.75 L521.38,430.07 L522.69,430.39 L523.99,430.71 L525.30,431.03 L526.61,431.36 L527.91,431.68 L529.22,432.01 L530.52,432.33 L531.83,432.66 L533.13,432.99 L534.44,433.32 L535.74,433.64 L537.05,433.97 L538.35,434.30 L539.66,434.63 L540.97,434.97 L542.27,435.30 L543.58,435.63 L544.88,435.96 L546.19,436.29 L547.49,436.63 L548.80,436.96 L550.10,437.29 L551.41,437.63 L552.72,437.96 L554.02,438.29 L555.33,438.63 L556.63,438.96 L557.94,439.29 L559.24,439.63 L560.55,439.96 L561.85,440.29 L563.16,440.62 L564.46,440.96 L565.77,441.29 L567.08,441.62 L568.38,441.95 L569.69,442.28 L570.99,442.61 L572.30,442.94 L573.60,443.27 L574.91,443.60 L576.21,443.92 L577.52,444.25 L578.83,444.57 L580.13,444.90 L581.44,445.22 L582.74,445.55 L584.05,445.87 L585.35,446.19 L586.66,446.51 L587.96,446.83 L589.27,447.14 L590.57,447.46 L591.88,447.78 L593.19,448.09 L594.49,448.40 L595.80,448.71 L597.10,449.02 L598.41,449.33 L599.71,449.64 L601.02,449.94 L602.32,450.25 L603.63,450.55 L604.93,450.85 L606.24,451.15 L607.55,451.45 L608.85,451.74 L610.16,452.04 L611.46,452.33 L612.77,452.62 L614.07,452.91 L615.38,453.19 L616.68,453.48 L617.99,453.76 L619.30,454.04 L620.60,454.32 L621.91,454.60 L623.21,454.87 L624.52,455.14 L625.82,455.42 L627.13,455.68 L628.43,455.95 L629.74,456.21 L631.05,456.47 L632.35,456.73 L633.66,456.99 L634.96,457.25 L636.27,457.50 L637.57,457.75 L638.88,457.99 L640.18,458.24 L641.49,458.48 L642.79,458.72 L644.10,458.96" fill="none" stroke="#3f7fc1" stroke-width="2.2"/>
<path d="M380.00,410.50 C380.53,410.52 380.70,410.48 383.20,410.60 C385.70,410.72 391.10,410.83 395.00,411.20 C398.90,411.57 401.22,411.42 406.60,412.80 C411.98,414.18 421.40,417.30 427.30,419.50 C433.20,421.70 437.08,423.68 442.00,426.00 C446.92,428.32 451.87,430.93 456.80,433.40 C461.73,435.87 466.68,438.30 471.60,440.80 C476.52,443.30 481.38,445.87 486.30,448.40 C491.22,450.93 496.17,453.43 501.10,456.00 C506.03,458.57 511.38,461.03 515.90,463.80 C520.42,466.57 524.15,469.70 528.20,472.60 C532.25,475.50 536.18,478.40 540.20,481.20 C544.22,484.00 548.28,486.90 552.30,489.40 C556.32,491.90 560.30,494.20 564.30,496.20 C568.30,498.20 572.28,499.97 576.30,501.40 C580.32,502.83 584.38,503.83 588.40,504.80 C592.42,505.77 596.38,506.48 600.40,507.20 C604.42,507.92 608.48,508.57 612.50,509.10 C616.52,509.63 619.88,509.92 624.50,510.40 C629.12,510.88 636.78,511.67 640.20,512.00 C643.62,512.33 644.20,512.33 645.00,512.40" fill="none" stroke="#4bae4a" stroke-width="2.4" stroke-dasharray="3 2.6"/>
<path d="M383.00,410.30 L384.31,410.33 L385.61,410.40 L386.92,410.53 L388.22,410.71 L389.53,410.94 L390.83,411.22 L392.14,411.55 L393.44,411.93 L394.75,412.37 L396.06,412.85 L397.36,413.38 L398.67,413.96 L399.97,414.59 L401.28,415.26 L402.58,415.99 L403.89,416.76 L405.19,417.58 L406.50,418.44 L407.80,419.35 L409.11,420.30 L410.42,421.30 L411.72,422.34 L413.03,423.42 L414.33,424.55 L415.64,425.71 L416.94,426.92 L418.25,428.16 L419.55,429.44 L420.86,430.76 L422.17,432.11 L423.47,433.50 L424.78,434.93 L426.08,436.39 L427.39,437.88 L428.69,439.40 L430.00,440.95 L431.30,442.52 L432.61,444.13 L433.91,445.77 L435.22,447.42 L436.53,449.11 L437.83,450.81 L439.14,452.54 L440.44,454.29 L441.75,456.06 L443.05,457.85 L444.36,459.65 L445.66,461.47 L446.97,463.30 L448.27,465.15 L449.58,467.01 L450.89,468.88 L452.19,470.76 L453.50,472.65 L454.80,474.55 L456.11,476.45 L457.41,478.36 L458.72,480.27 L460.02,482.18 L461.33,484.10 L462.64,486.01 L463.94,487.93 L465.25,489.84 L466.55,491.75 L467.86,493.65 L469.16,495.55 L470.47,497.44 L471.77,499.32 L473.08,501.20 L474.38,503.06 L475.69,504.91 L477.00,506.76 L478.30,508.58 L479.61,510.40 L480.91,512.20 L482.22,513.98 L483.52,515.75 L484.83,517.49 L486.13,519.22 L487.44,520.93 L488.75,522.62 L490.05,524.29 L491.36,525.94 L492.66,527.56 L493.97,529.17 L495.27,530.74 L496.58,532.30 L497.88,533.83 L499.19,535.33 L500.50,536.80 L501.80,538.25 L503.11,539.68 L504.41,541.07 L505.72,542.44 L507.02,543.77 L508.33,545.08 L509.63,546.36 L510.94,547.61 L512.24,548.83 L513.55,550.02 L514.86,551.18 L516.16,552.31 L517.47,553.41 L518.77,554.47 L520.08,555.51 L521.38,556.51 L522.69,557.49 L523.99,558.43 L525.30,559.34 L526.61,560.23 L527.91,561.08 L529.22,561.90 L530.52,562.68 L531.83,563.44 L533.13,564.17 L534.44,564.87 L535.74,565.54 L537.05,566.17 L538.35,566.78 L539.66,567.36 L540.97,567.91 L542.27,568.44 L543.58,568.93 L544.88,569.40 L546.19,569.84 L547.49,570.25 L548.80,570.64 L550.10,571.00 L551.41,571.33 L552.72,571.64 L554.02,571.93 L555.33,572.19 L556.63,572.43 L557.94,572.64 L559.24,572.84 L560.55,573.01 L561.85,573.16 L563.16,573.29 L564.46,573.40 L565.77,573.49 L567.08,573.56 L568.38,573.62 L569.69,573.65 L570.99,573.68 L572.30,573.68 L573.60,573.67 L574.91,573.64 L576.21,573.60 L577.52,573.55 L578.83,573.48 L580.13,573.40 L581.44,573.31 L582.74,573.21 L584.05,573.10 L585.35,572.98 L586.66,572.85 L587.96,572.71 L589.27,572.57 L590.57,572.41 L591.88,572.25 L593.19,572.09 L594.49,571.92 L595.80,571.74 L597.10,571.56 L598.41,571.38 L599.71,571.19 L601.02,571.00 L602.32,570.81 L603.63,570.62 L604.93,570.43 L606.24,570.23 L607.55,570.04 L608.85,569.85 L610.16,569.66 L611.46,569.47 L612.77,569.28 L614.07,569.09 L615.38,568.91 L616.68,568.73 L617.99,568.55 L619.30,568.38 L620.60,568.21 L621.91,568.04 L623.21,567.88 L624.52,567.73 L625.82,567.58 L627.13,567.43 L628.43,567.30 L629.74,567.16 L631.05,567.04 L632.35,566.92 L633.66,566.81 L634.96,566.70 L636.27,566.60 L637.57,566.51 L638.88,566.42 L640.18,566.34 L641.49,566.27 L642.79,566.21 L644.10,566.15" fill="none" stroke="#e8822c" stroke-width="2.2" stroke-dasharray="6 3.5"/>
</g>
<line x1="407.8" y1="427.20000000000005" x2="407.8" y2="433.0" stroke="#e8822c" stroke-width="1.5" />
<line x1="404.8" y1="427.20000000000005" x2="410.8" y2="427.20000000000005" stroke="#e8822c" stroke-width="1.5" />
<line x1="404.8" y1="433.0" x2="410.8" y2="433.0" stroke="#e8822c" stroke-width="1.5" />
<circle cx="407.8" cy="430.1" r="3.0" fill="#e8822c"/>
<line x1="421.2" y1="434.5" x2="421.2" y2="440.29999999999995" stroke="#e8822c" stroke-width="1.5" />
<line x1="418.2" y1="434.5" x2="424.2" y2="434.5" stroke="#e8822c" stroke-width="1.5" />
<line x1="418.2" y1="440.29999999999995" x2="424.2" y2="440.29999999999995" stroke="#e8822c" stroke-width="1.5" />
<circle cx="421.2" cy="437.4" r="3.0" fill="#e8822c"/>
<line x1="439.9" y1="460.8" x2="439.9" y2="466.59999999999997" stroke="#e8822c" stroke-width="1.5" />
<line x1="436.9" y1="460.8" x2="442.9" y2="460.8" stroke="#e8822c" stroke-width="1.5" />
<line x1="436.9" y1="466.59999999999997" x2="442.9" y2="466.59999999999997" stroke="#e8822c" stroke-width="1.5" />
<circle cx="439.9" cy="463.7" r="3.0" fill="#e8822c"/>
<line x1="459.9" y1="482.20000000000005" x2="459.9" y2="488.0" stroke="#e8822c" stroke-width="1.5" />
<line x1="456.9" y1="482.20000000000005" x2="462.9" y2="482.20000000000005" stroke="#e8822c" stroke-width="1.5" />
<line x1="456.9" y1="488.0" x2="462.9" y2="488.0" stroke="#e8822c" stroke-width="1.5" />
<circle cx="459.9" cy="485.1" r="3.0" fill="#e8822c"/>
<line x1="475.3" y1="504.1" x2="475.3" y2="509.9" stroke="#e8822c" stroke-width="1.5" />
<line x1="472.3" y1="504.1" x2="478.3" y2="504.1" stroke="#e8822c" stroke-width="1.5" />
<line x1="472.3" y1="509.9" x2="478.3" y2="509.9" stroke="#e8822c" stroke-width="1.5" />
<circle cx="475.3" cy="507" r="3.0" fill="#e8822c"/>
<line x1="491" y1="525.6" x2="491" y2="531.4" stroke="#e8822c" stroke-width="1.5" />
<line x1="488.0" y1="525.6" x2="494.0" y2="525.6" stroke="#e8822c" stroke-width="1.5" />
<line x1="488.0" y1="531.4" x2="494.0" y2="531.4" stroke="#e8822c" stroke-width="1.5" />
<circle cx="491" cy="528.5" r="3.0" fill="#e8822c"/>
<line x1="506.9" y1="540.1" x2="506.9" y2="545.9" stroke="#e8822c" stroke-width="1.5" />
<line x1="503.9" y1="540.1" x2="509.9" y2="540.1" stroke="#e8822c" stroke-width="1.5" />
<line x1="503.9" y1="545.9" x2="509.9" y2="545.9" stroke="#e8822c" stroke-width="1.5" />
<circle cx="506.9" cy="543" r="3.0" fill="#e8822c"/>
<line x1="522" y1="553.2" x2="522" y2="559.0" stroke="#e8822c" stroke-width="1.5" />
<line x1="519.0" y1="553.2" x2="525.0" y2="553.2" stroke="#e8822c" stroke-width="1.5" />
<line x1="519.0" y1="559.0" x2="525.0" y2="559.0" stroke="#e8822c" stroke-width="1.5" />
<circle cx="522" cy="556.1" r="3.0" fill="#e8822c"/>
<line x1="586.3" y1="565.3000000000001" x2="586.3" y2="571.1" stroke="#e8822c" stroke-width="1.5" />
<line x1="583.3" y1="565.3000000000001" x2="589.3" y2="565.3000000000001" stroke="#e8822c" stroke-width="1.5" />
<line x1="583.3" y1="571.1" x2="589.3" y2="571.1" stroke="#e8822c" stroke-width="1.5" />
<circle cx="586.3" cy="568.2" r="3.0" fill="#e8822c"/>
<line x1="597.7" y1="571.0" x2="597.7" y2="576.8" stroke="#e8822c" stroke-width="1.5" />
<line x1="594.7" y1="571.0" x2="600.7" y2="571.0" stroke="#e8822c" stroke-width="1.5" />
<line x1="594.7" y1="576.8" x2="600.7" y2="576.8" stroke="#e8822c" stroke-width="1.5" />
<circle cx="597.7" cy="573.9" r="3.0" fill="#e8822c"/>
<line x1="607.9" y1="569.1" x2="607.9" y2="574.9" stroke="#e8822c" stroke-width="1.5" />
<line x1="604.9" y1="569.1" x2="610.9" y2="569.1" stroke="#e8822c" stroke-width="1.5" />
<line x1="604.9" y1="574.9" x2="610.9" y2="574.9" stroke="#e8822c" stroke-width="1.5" />
<circle cx="607.9" cy="572" r="3.0" fill="#e8822c"/>
<line x1="616.2" y1="564.6" x2="616.2" y2="570.4" stroke="#e8822c" stroke-width="1.5" />
<line x1="613.2" y1="564.6" x2="619.2" y2="564.6" stroke="#e8822c" stroke-width="1.5" />
<line x1="613.2" y1="570.4" x2="619.2" y2="570.4" stroke="#e8822c" stroke-width="1.5" />
<circle cx="616.2" cy="567.5" r="3.0" fill="#e8822c"/>
<line x1="624.1" y1="567.2" x2="624.1" y2="573.0" stroke="#e8822c" stroke-width="1.5" />
<line x1="621.1" y1="567.2" x2="627.1" y2="567.2" stroke="#e8822c" stroke-width="1.5" />
<line x1="621.1" y1="573.0" x2="627.1" y2="573.0" stroke="#e8822c" stroke-width="1.5" />
<circle cx="624.1" cy="570.1" r="3.0" fill="#e8822c"/>
<line x1="407.8" y1="416.3" x2="407.8" y2="422.09999999999997" stroke="#4bae4a" stroke-width="1.5" />
<line x1="404.8" y1="416.3" x2="410.8" y2="416.3" stroke="#4bae4a" stroke-width="1.5" />
<line x1="404.8" y1="422.09999999999997" x2="410.8" y2="422.09999999999997" stroke="#4bae4a" stroke-width="1.5" />
<circle cx="407.8" cy="419.2" r="3.0" fill="#4bae4a"/>
<line x1="421.2" y1="419.3" x2="421.2" y2="425.09999999999997" stroke="#4bae4a" stroke-width="1.5" />
<line x1="418.2" y1="419.3" x2="424.2" y2="419.3" stroke="#4bae4a" stroke-width="1.5" />
<line x1="418.2" y1="425.09999999999997" x2="424.2" y2="425.09999999999997" stroke="#4bae4a" stroke-width="1.5" />
<circle cx="421.2" cy="422.2" r="3.0" fill="#4bae4a"/>
<line x1="439.9" y1="421.1" x2="439.9" y2="426.9" stroke="#4bae4a" stroke-width="1.5" />
<line x1="436.9" y1="421.1" x2="442.9" y2="421.1" stroke="#4bae4a" stroke-width="1.5" />
<line x1="436.9" y1="426.9" x2="442.9" y2="426.9" stroke="#4bae4a" stroke-width="1.5" />
<circle cx="439.9" cy="424" r="3.0" fill="#4bae4a"/>
<line x1="459.9" y1="429.8" x2="459.9" y2="435.59999999999997" stroke="#4bae4a" stroke-width="1.5" />
<line x1="456.9" y1="429.8" x2="462.9" y2="429.8" stroke="#4bae4a" stroke-width="1.5" />
<line x1="456.9" y1="435.59999999999997" x2="462.9" y2="435.59999999999997" stroke="#4bae4a" stroke-width="1.5" />
<circle cx="459.9" cy="432.7" r="3.0" fill="#4bae4a"/>
<line x1="475.3" y1="434.6" x2="475.3" y2="440.4" stroke="#4bae4a" stroke-width="1.5" />
<line x1="472.3" y1="434.6" x2="478.3" y2="434.6" stroke="#4bae4a" stroke-width="1.5" />
<line x1="472.3" y1="440.4" x2="478.3" y2="440.4" stroke="#4bae4a" stroke-width="1.5" />
<circle cx="475.3" cy="437.5" r="3.0" fill="#4bae4a"/>
<line x1="491" y1="441.0" x2="491" y2="446.79999999999995" stroke="#4bae4a" stroke-width="1.5" />
<line x1="488.0" y1="441.0" x2="494.0" y2="441.0" stroke="#4bae4a" stroke-width="1.5" />
<line x1="488.0" y1="446.79999999999995" x2="494.0" y2="446.79999999999995" stroke="#4bae4a" stroke-width="1.5" />
<circle cx="491" cy="443.9" r="3.0" fill="#4bae4a"/>
<line x1="506.9" y1="453.8" x2="506.9" y2="459.59999999999997" stroke="#4bae4a" stroke-width="1.5" />
<line x1="503.9" y1="453.8" x2="509.9" y2="453.8" stroke="#4bae4a" stroke-width="1.5" />
<line x1="503.9" y1="459.59999999999997" x2="509.9" y2="459.59999999999997" stroke="#4bae4a" stroke-width="1.5" />
<circle cx="506.9" cy="456.7" r="3.0" fill="#4bae4a"/>
<line x1="522" y1="460.6" x2="522" y2="466.4" stroke="#4bae4a" stroke-width="1.5" />
<line x1="519.0" y1="460.6" x2="525.0" y2="460.6" stroke="#4bae4a" stroke-width="1.5" />
<line x1="519.0" y1="466.4" x2="525.0" y2="466.4" stroke="#4bae4a" stroke-width="1.5" />
<circle cx="522" cy="463.5" r="3.0" fill="#4bae4a"/>
<line x1="586.3" y1="489.0" x2="586.3" y2="494.79999999999995" stroke="#4bae4a" stroke-width="1.5" />
<line x1="583.3" y1="489.0" x2="589.3" y2="489.0" stroke="#4bae4a" stroke-width="1.5" />
<line x1="583.3" y1="494.79999999999995" x2="589.3" y2="494.79999999999995" stroke="#4bae4a" stroke-width="1.5" />
<circle cx="586.3" cy="491.9" r="3.0" fill="#4bae4a"/>
<line x1="597.7" y1="501.1" x2="597.7" y2="506.9" stroke="#4bae4a" stroke-width="1.5" />
<line x1="594.7" y1="501.1" x2="600.7" y2="501.1" stroke="#4bae4a" stroke-width="1.5" />
<line x1="594.7" y1="506.9" x2="600.7" y2="506.9" stroke="#4bae4a" stroke-width="1.5" />
<circle cx="597.7" cy="504" r="3.0" fill="#4bae4a"/>
<line x1="607.9" y1="501.1" x2="607.9" y2="506.9" stroke="#4bae4a" stroke-width="1.5" />
<line x1="604.9" y1="501.1" x2="610.9" y2="501.1" stroke="#4bae4a" stroke-width="1.5" />
<line x1="604.9" y1="506.9" x2="610.9" y2="506.9" stroke="#4bae4a" stroke-width="1.5" />
<circle cx="607.9" cy="504" r="3.0" fill="#4bae4a"/>
<line x1="616.2" y1="506.0" x2="616.2" y2="511.79999999999995" stroke="#4bae4a" stroke-width="1.5" />
<line x1="613.2" y1="506.0" x2="619.2" y2="506.0" stroke="#4bae4a" stroke-width="1.5" />
<line x1="613.2" y1="511.79999999999995" x2="619.2" y2="511.79999999999995" stroke="#4bae4a" stroke-width="1.5" />
<circle cx="616.2" cy="508.9" r="3.0" fill="#4bae4a"/>
<line x1="624.1" y1="499.90000000000003" x2="624.1" y2="505.7" stroke="#4bae4a" stroke-width="1.5" />
<line x1="621.1" y1="499.90000000000003" x2="627.1" y2="499.90000000000003" stroke="#4bae4a" stroke-width="1.5" />
<line x1="621.1" y1="505.7" x2="627.1" y2="505.7" stroke="#4bae4a" stroke-width="1.5" />
<circle cx="624.1" cy="502.8" r="3.0" fill="#4bae4a"/>
<line x1="421.2" y1="416.3" x2="421.2" y2="422.09999999999997" stroke="#3f7fc1" stroke-width="1.5" />
<line x1="418.2" y1="416.3" x2="424.2" y2="416.3" stroke="#3f7fc1" stroke-width="1.5" />
<line x1="418.2" y1="422.09999999999997" x2="424.2" y2="422.09999999999997" stroke="#3f7fc1" stroke-width="1.5" />
<circle cx="421.2" cy="419.2" r="3.0" fill="#3f7fc1"/>
<line x1="439.9" y1="424.0" x2="439.9" y2="429.79999999999995" stroke="#3f7fc1" stroke-width="1.5" />
<line x1="436.9" y1="424.0" x2="442.9" y2="424.0" stroke="#3f7fc1" stroke-width="1.5" />
<line x1="436.9" y1="429.79999999999995" x2="442.9" y2="429.79999999999995" stroke="#3f7fc1" stroke-width="1.5" />
<circle cx="439.9" cy="426.9" r="3.0" fill="#3f7fc1"/>
<line x1="459.9" y1="420.3" x2="459.9" y2="426.09999999999997" stroke="#3f7fc1" stroke-width="1.5" />
<line x1="456.9" y1="420.3" x2="462.9" y2="420.3" stroke="#3f7fc1" stroke-width="1.5" />
<line x1="456.9" y1="426.09999999999997" x2="462.9" y2="426.09999999999997" stroke="#3f7fc1" stroke-width="1.5" />
<circle cx="459.9" cy="423.2" r="3.0" fill="#3f7fc1"/>
<line x1="475.3" y1="424.70000000000005" x2="475.3" y2="430.5" stroke="#3f7fc1" stroke-width="1.5" />
<line x1="472.3" y1="424.70000000000005" x2="478.3" y2="424.70000000000005" stroke="#3f7fc1" stroke-width="1.5" />
<line x1="472.3" y1="430.5" x2="478.3" y2="430.5" stroke="#3f7fc1" stroke-width="1.5" />
<circle cx="475.3" cy="427.6" r="3.0" fill="#3f7fc1"/>
<line x1="491" y1="426.6" x2="491" y2="432.4" stroke="#3f7fc1" stroke-width="1.5" />
<line x1="488.0" y1="426.6" x2="494.0" y2="426.6" stroke="#3f7fc1" stroke-width="1.5" />
<line x1="488.0" y1="432.4" x2="494.0" y2="432.4" stroke="#3f7fc1" stroke-width="1.5" />
<circle cx="491" cy="429.5" r="3.0" fill="#3f7fc1"/>
<line x1="506.9" y1="426.6" x2="506.9" y2="432.4" stroke="#3f7fc1" stroke-width="1.5" />
<line x1="503.9" y1="426.6" x2="509.9" y2="426.6" stroke="#3f7fc1" stroke-width="1.5" />
<line x1="503.9" y1="432.4" x2="509.9" y2="432.4" stroke="#3f7fc1" stroke-width="1.5" />
<circle cx="506.9" cy="429.5" r="3.0" fill="#3f7fc1"/>
<line x1="522" y1="431.6" x2="522" y2="437.4" stroke="#3f7fc1" stroke-width="1.5" />
<line x1="519.0" y1="431.6" x2="525.0" y2="431.6" stroke="#3f7fc1" stroke-width="1.5" />
<line x1="519.0" y1="437.4" x2="525.0" y2="437.4" stroke="#3f7fc1" stroke-width="1.5" />
<circle cx="522" cy="434.5" r="3.0" fill="#3f7fc1"/>
<line x1="537.2" y1="434.20000000000005" x2="537.2" y2="440.0" stroke="#3f7fc1" stroke-width="1.5" />
<line x1="534.2" y1="434.20000000000005" x2="540.2" y2="434.20000000000005" stroke="#3f7fc1" stroke-width="1.5" />
<line x1="534.2" y1="440.0" x2="540.2" y2="440.0" stroke="#3f7fc1" stroke-width="1.5" />
<circle cx="537.2" cy="437.1" r="3.0" fill="#3f7fc1"/>
<line x1="597.7" y1="444.40000000000003" x2="597.7" y2="450.2" stroke="#3f7fc1" stroke-width="1.5" />
<line x1="594.7" y1="444.40000000000003" x2="600.7" y2="444.40000000000003" stroke="#3f7fc1" stroke-width="1.5" />
<line x1="594.7" y1="450.2" x2="600.7" y2="450.2" stroke="#3f7fc1" stroke-width="1.5" />
<circle cx="597.7" cy="447.3" r="3.0" fill="#3f7fc1"/>
<line x1="607.9" y1="445.5" x2="607.9" y2="451.29999999999995" stroke="#3f7fc1" stroke-width="1.5" />
<line x1="604.9" y1="445.5" x2="610.9" y2="445.5" stroke="#3f7fc1" stroke-width="1.5" />
<line x1="604.9" y1="451.29999999999995" x2="610.9" y2="451.29999999999995" stroke="#3f7fc1" stroke-width="1.5" />
<circle cx="607.9" cy="448.4" r="3.0" fill="#3f7fc1"/>
<line x1="616.2" y1="448.1" x2="616.2" y2="453.9" stroke="#3f7fc1" stroke-width="1.5" />
<line x1="613.2" y1="448.1" x2="619.2" y2="448.1" stroke="#3f7fc1" stroke-width="1.5" />
<line x1="613.2" y1="453.9" x2="619.2" y2="453.9" stroke="#3f7fc1" stroke-width="1.5" />
<circle cx="616.2" cy="451" r="3.0" fill="#3f7fc1"/>
<line x1="624.1" y1="447.0" x2="624.1" y2="452.79999999999995" stroke="#3f7fc1" stroke-width="1.5" />
<line x1="621.1" y1="447.0" x2="627.1" y2="447.0" stroke="#3f7fc1" stroke-width="1.5" />
<line x1="621.1" y1="452.79999999999995" x2="627.1" y2="452.79999999999995" stroke="#3f7fc1" stroke-width="1.5" />
<circle cx="624.1" cy="449.9" r="3.0" fill="#3f7fc1"/>
<rect x="383.0" y="410.3" width="261.1" height="194.49999999999994" fill="none" stroke="#231f20" stroke-width="2.0"/>
<line x1="644.1" y1="410.3" x2="650.1" y2="410.3" stroke="#231f20" stroke-width="1.5" />
<text stroke="#231f20" stroke-width="0.18" id="t80" x="651.1" y="415.3" font-size="14" text-anchor="start" font-weight="normal" font-style="normal" fill="#231f20" >1.0</text>
<line x1="644.1" y1="604.8" x2="650.1" y2="604.8" stroke="#231f20" stroke-width="1.5" />
<text stroke="#231f20" stroke-width="0.18" id="t81" x="651.1" y="609.8" font-size="14" text-anchor="start" font-weight="normal" font-style="normal" fill="#231f20" >0.0</text>
<line x1="383.0" y1="604.8" x2="383.0" y2="609.7" stroke="#231f20" stroke-width="1.5" />
<text stroke="#231f20" stroke-width="0.18" id="t82" x="383.0" y="621.9" font-size="14" text-anchor="middle" font-weight="normal" font-style="normal" fill="#231f20" >0.0</text>
<line x1="448.275" y1="604.8" x2="448.275" y2="609.7" stroke="#231f20" stroke-width="1.5" />
<text stroke="#231f20" stroke-width="0.18" id="t83" x="448.275" y="621.9" font-size="14" text-anchor="middle" font-weight="normal" font-style="normal" fill="#231f20" >0.5</text>
<line x1="513.55" y1="604.8" x2="513.55" y2="609.7" stroke="#231f20" stroke-width="1.5" />
<text stroke="#231f20" stroke-width="0.18" id="t84" x="513.55" y="621.9" font-size="14" text-anchor="middle" font-weight="normal" font-style="normal" fill="#231f20" >1.0</text>
<line x1="578.825" y1="604.8" x2="578.825" y2="609.7" stroke="#231f20" stroke-width="1.5" />
<text stroke="#231f20" stroke-width="0.18" id="t85" x="578.825" y="621.9" font-size="14" text-anchor="middle" font-weight="normal" font-style="normal" fill="#231f20" >1.5</text>
<line x1="644.1" y1="604.8" x2="644.1" y2="609.7" stroke="#231f20" stroke-width="1.5" />
<text stroke="#231f20" stroke-width="0.18" id="t86" x="644.1" y="621.9" font-size="14" text-anchor="middle" font-weight="normal" font-style="normal" fill="#231f20" >2.0</text>
<text stroke="#231f20" stroke-width="0.18" id="t87" x="489.0" y="637.6" font-size="16.0" fill="#231f20"><tspan font-style="italic">Q</tspan> (Å<tspan font-size="10.5" dy="-6">-1</tspan><tspan dy="6">)</tspan></text>
<text stroke="#231f20" stroke-width="0.18" id="t88" transform="translate(657.4,507.6) rotate(90)" text-anchor="middle" font-size="17" fill="#231f20">EISF</text>
<text stroke="#231f20" stroke-width="0.09" id="t89" x="386.3" y="454.5" font-size="39" text-anchor="start" font-weight="bold" font-style="normal" fill="#231f20" >f</text>
<line x1="385.0" y1="521.0" x2="398.4" y2="521.0" stroke="#3f7fc1" stroke-width="2.0" />
<text stroke="#231f20" stroke-width="0.18" id="t90" x="400.3" y="525.0" font-size="11.3" fill="#231f20">Methyl: <tspan font-style="italic">f</tspan> = 0.37</text>
<circle cx="392.7" cy="535.98" r="3.4" fill="#3f7fc1"/>
<text stroke="#231f20" stroke-width="0.18" id="t91" x="400.3" y="539.98" font-size="11.3" fill="#231f20">Mode 1 260 K</text>
<line x1="385.0" y1="550.96" x2="398.4" y2="550.96" stroke="#4bae4a" stroke-width="2.0" stroke-dasharray="2 2.2"/>
<text stroke="#231f20" stroke-width="0.18" id="t92" x="400.3" y="554.96" font-size="11.3" fill="#231f20">Hydroxy. <tspan font-style="italic">f</tspan> = 0.60</text>
<circle cx="392.7" cy="565.94" r="3.4" fill="#4bae4a"/>
<text stroke="#231f20" stroke-width="0.18" id="t93" x="400.3" y="569.94" font-size="11.3" fill="#231f20">Mode 2 330 K</text>
<line x1="385.0" y1="580.92" x2="398.4" y2="580.92" stroke="#e8822c" stroke-width="2.0" stroke-dasharray="5 2.5"/>
<text stroke="#231f20" stroke-width="0.18" id="t94" x="400.3" y="584.92" font-size="11.3" fill="#231f20">Reorient.: <tspan font-style="italic">f</tspan> = 0.84</text>
<circle cx="392.7" cy="595.9" r="3.4" fill="#e8822c"/>
<text stroke="#231f20" stroke-width="0.18" id="t95" x="400.3" y="599.9" font-size="11.3" fill="#231f20">Mode 3 330 K</text>
<text stroke="#3f7fc1" stroke-width="0.18" id="t96" transform="translate(551.5,424.5) rotate(13)" font-size="18.3" fill="#3f7fc1"><tspan font-style="italic">r</tspan><tspan font-style="italic" font-size="11" dy="5.5">1</tspan><tspan dy="-5.5"> = 0.92 Å</tspan></text>
<text stroke="#4bae4a" stroke-width="0.18" id="t97" transform="translate(552.8,473.5) rotate(13)" font-size="18.3" fill="#4bae4a"><tspan font-style="italic">r</tspan><tspan font-style="italic" font-size="11" dy="5.5">2</tspan><tspan dy="-5.5"> = 1.27 Å</tspan></text>
<text stroke="#e0552a" stroke-width="0.18" id="t98" x="553.3" y="562.5" font-size="18.3" fill="#e0552a"><tspan font-style="italic">r</tspan><tspan font-style="italic" font-size="11" dy="5.5">3</tspan><tspan dy="-5.5"> = 2.22 Å</tspan></text>
</svg></body></html>
